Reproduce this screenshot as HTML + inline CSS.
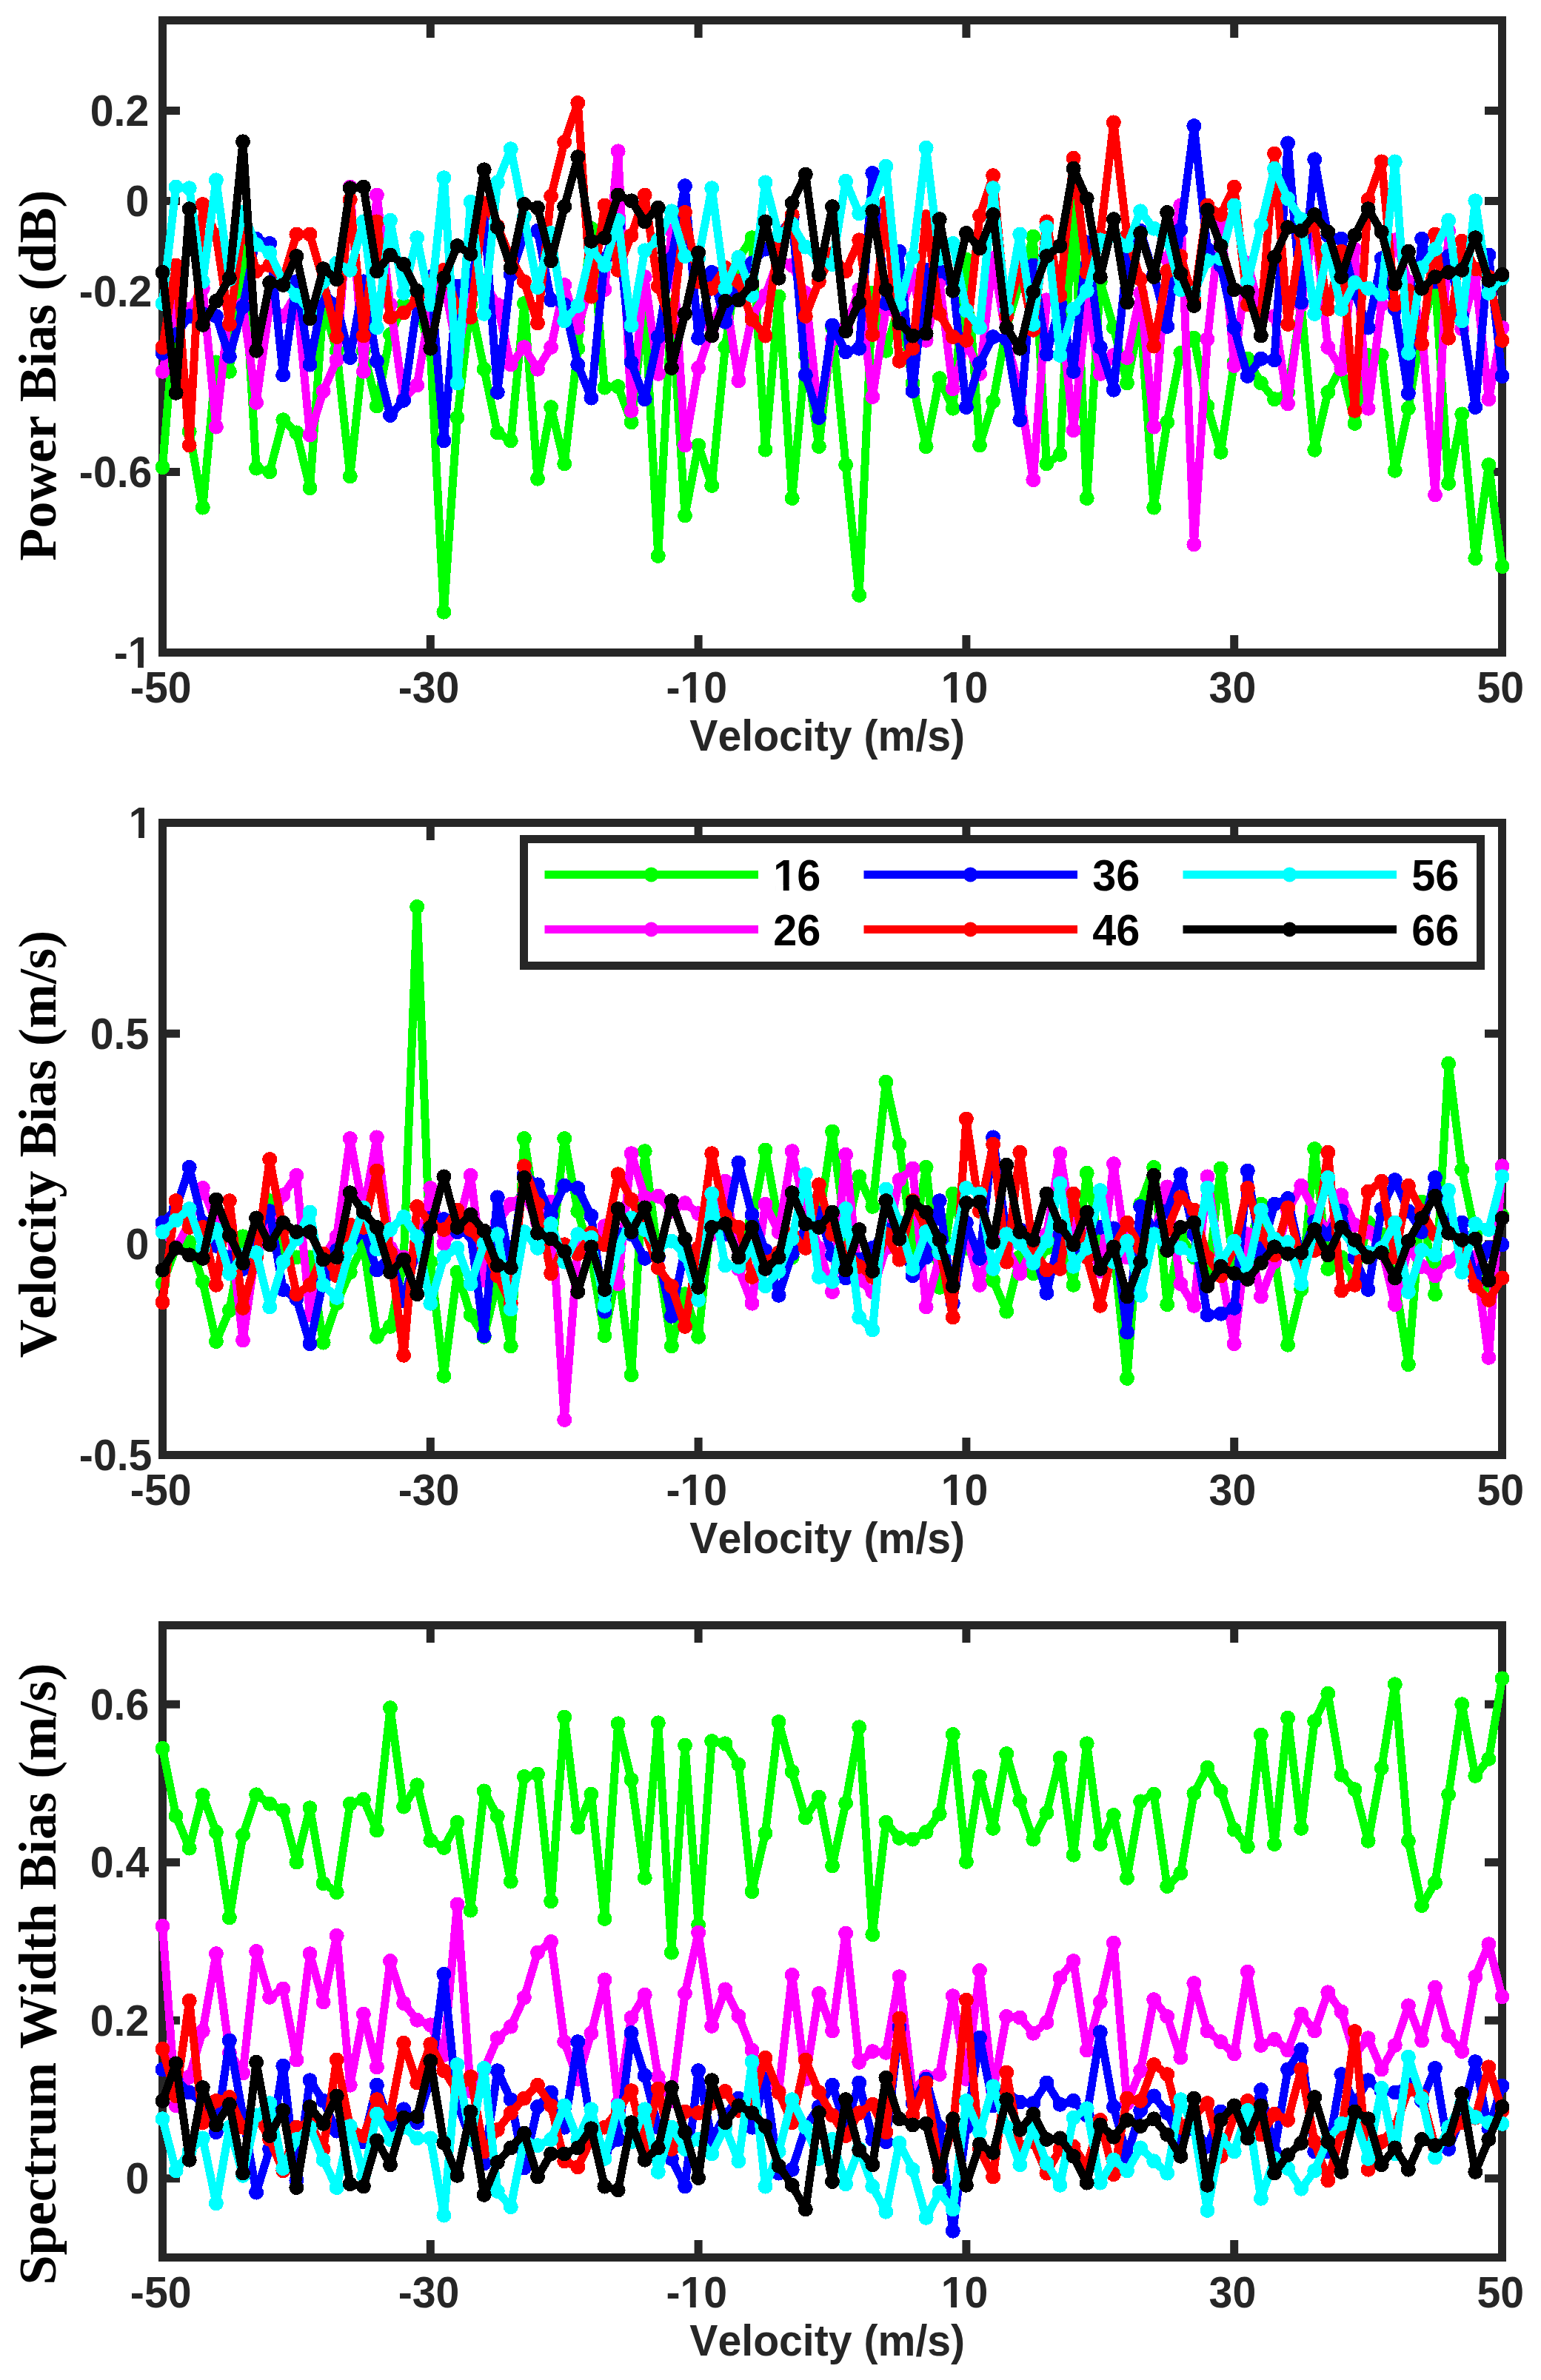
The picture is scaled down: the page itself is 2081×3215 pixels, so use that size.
<!DOCTYPE html>
<html lang="en"><head><meta charset="utf-8"><title>Bias vs Velocity</title>
<style>html,body{margin:0;padding:0;background:#fff;overflow:hidden}svg{display:block}text{font-kerning:none}.t{font-family:"Liberation Sans",Arial,sans-serif;font-weight:bold;font-size:57.2px;fill:#262626}.x{font-family:"Liberation Sans",Arial,sans-serif;font-weight:bold;font-size:57.2px;fill:#262626}.l{font-family:"Liberation Sans",Arial,sans-serif;font-weight:bold;font-size:57.6px;fill:#000}.y{font-family:"Liberation Serif","Times New Roman",serif;font-weight:bold;font-size:72.2px;fill:#000}.s{fill:none;stroke-width:11;stroke-linejoin:round;stroke-linecap:butt;shape-rendering:crispEdges}.d{fill:none;stroke-width:20;stroke-linecap:round;shape-rendering:crispEdges}.a{fill:none;stroke:#262626;stroke-width:11;stroke-linecap:butt}</style></head><body>
<svg width="2081" height="3215" viewBox="0 0 2081 3215">
<rect width="2081" height="3215" fill="#fff"/>
<g>
<path class="a" d="M581.3 27.5v23.5M581.3 881.5v-23.5M943.1 27.5v23.5M943.1 881.5v-23.5M1304.9 27.5v23.5M1304.9 881.5v-23.5M1666.7 27.5v23.5M1666.7 881.5v-23.5M219.5 149.5h23.5M2028.5 149.5h-23.5M219.5 271.5h23.5M2028.5 271.5h-23.5M219.5 393.5h23.5M2028.5 393.5h-23.5M219.5 637.5h23.5M2028.5 637.5h-23.5"/>
<rect class="a" x="219.5" y="27.5" width="1809" height="854"/>
<polyline class="s" stroke="#00ff00" points="219.5,631.1 237.6,411.5 255.7,582.8 273.8,685.6 291.9,489.4 309.9,501.8 328,330.5 346.1,632.6 364.2,637.3 382.3,567.2 400.4,584.4 418.5,659.1 436.6,411.5 454.7,473.8 472.8,643.5 490.9,473.8 508.9,548.5 527,452 545.1,411.5 563.2,411.5 581.3,473.8 599.4,826.7 617.5,564.1 635.6,411.5 653.7,498.7 671.8,584.4 689.8,595.3 707.9,409.9 726,646.7 744.1,550.1 762.2,626.4 780.3,470.7 798.4,308.7 816.5,523.6 834.6,522.1 852.6,570.3 870.7,411.5 888.8,751 906.9,411.5 925,696.5 943.1,601.5 961.2,656 979.3,469.1 997.4,349.2 1015.5,321.2 1033.5,607.7 1051.6,400.6 1069.7,673.1 1087.8,480 1105.9,603.1 1124,442.6 1142.1,628 1160.2,804 1178.3,395.9 1196.4,473.8 1214.5,411.5 1232.5,517.4 1250.6,603.1 1268.7,511.2 1286.8,551.7 1304.9,350.7 1323,601.5 1341.1,542.3 1359.2,442.6 1377.3,380.3 1395.3,319.6 1413.4,626.4 1431.5,614 1449.6,255.7 1467.7,673.1 1485.8,380.3 1503.9,442.6 1522,517.4 1540.1,427.1 1558.2,685.6 1576.2,570.3 1594.3,476.9 1612.4,456.7 1630.5,548.5 1648.6,610.8 1666.7,489.4 1684.8,484.7 1702.9,517.4 1721,539.2 1739.1,529.9 1757.2,411.5 1775.2,607.7 1793.3,529.9 1811.4,495.6 1829.5,571.9 1847.6,480 1865.7,480 1883.8,635.8 1901.9,551.7 1920,442.6 1938,380.3 1956.1,652.9 1974.2,559.4 1992.3,754.1 2010.4,628 2028.5,765"/>
<path class="d" stroke="#00ff00" d="M219.5 631.1h0M237.6 411.5h0M255.7 582.8h0M273.8 685.6h0M291.9 489.4h0M309.9 501.8h0M328 330.5h0M346.1 632.6h0M364.2 637.3h0M382.3 567.2h0M400.4 584.4h0M418.5 659.1h0M436.6 411.5h0M454.7 473.8h0M472.8 643.5h0M490.9 473.8h0M508.9 548.5h0M527 452h0M545.1 411.5h0M563.2 411.5h0M581.3 473.8h0M599.4 826.7h0M617.5 564.1h0M635.6 411.5h0M653.7 498.7h0M671.8 584.4h0M689.8 595.3h0M707.9 409.9h0M726 646.7h0M744.1 550.1h0M762.2 626.4h0M780.3 470.7h0M798.4 308.7h0M816.5 523.6h0M834.6 522.1h0M852.6 570.3h0M870.7 411.5h0M888.8 751h0M906.9 411.5h0M925 696.5h0M943.1 601.5h0M961.2 656h0M979.3 469.1h0M997.4 349.2h0M1015.5 321.2h0M1033.5 607.7h0M1051.6 400.6h0M1069.7 673.1h0M1087.8 480h0M1105.9 603.1h0M1124 442.6h0M1142.1 628h0M1160.2 804h0M1178.3 395.9h0M1196.4 473.8h0M1214.5 411.5h0M1232.5 517.4h0M1250.6 603.1h0M1268.7 511.2h0M1286.8 551.7h0M1304.9 350.7h0M1323 601.5h0M1341.1 542.3h0M1359.2 442.6h0M1377.3 380.3h0M1395.3 319.6h0M1413.4 626.4h0M1431.5 614h0M1449.6 255.7h0M1467.7 673.1h0M1485.8 380.3h0M1503.9 442.6h0M1522 517.4h0M1540.1 427.1h0M1558.2 685.6h0M1576.2 570.3h0M1594.3 476.9h0M1612.4 456.7h0M1630.5 548.5h0M1648.6 610.8h0M1666.7 489.4h0M1684.8 484.7h0M1702.9 517.4h0M1721 539.2h0M1739.1 529.9h0M1757.2 411.5h0M1775.2 607.7h0M1793.3 529.9h0M1811.4 495.6h0M1829.5 571.9h0M1847.6 480h0M1865.7 480h0M1883.8 635.8h0M1901.9 551.7h0M1920 442.6h0M1938 380.3h0M1956.1 652.9h0M1974.2 559.4h0M1992.3 754.1h0M2010.4 628h0M2028.5 765h0"/>
<polyline class="s" stroke="#ff00ff" points="219.5,501.8 237.6,411.5 255.7,417.7 273.8,389.7 291.9,576.6 309.9,411.5 328,411.5 346.1,543.9 364.2,411.5 382.3,427.1 400.4,395.9 418.5,587.5 436.6,528.3 454.7,486.2 472.8,252.6 490.9,501.8 508.9,263.5 527,411.5 545.1,539.2 563.2,520.5 581.3,411.5 599.4,380.3 617.5,473.8 635.6,395.9 653.7,380.3 671.8,411.5 689.8,492.5 707.9,469.1 726,498.7 744.1,469.1 762.2,385 780.3,442.6 798.4,380.3 816.5,391.2 834.6,204.3 852.6,554.8 870.7,374.1 888.8,504.9 906.9,311.8 925,601.5 943.1,497.1 961.2,442.6 979.3,395.9 997.4,514.3 1015.5,427.1 1033.5,399 1051.6,349.2 1069.7,358.5 1087.8,395.9 1105.9,564.1 1124,458.2 1142.1,442.6 1160.2,391.2 1178.3,536.1 1196.4,417.7 1214.5,427.1 1232.5,371 1250.6,459.8 1268.7,380.3 1286.8,525.2 1304.9,461.3 1323,504.9 1341.1,349.2 1359.2,458.2 1377.3,529.9 1395.3,648.2 1413.4,405.3 1431.5,411.5 1449.6,581.2 1467.7,408.4 1485.8,504.9 1503.9,480 1522,483.1 1540.1,395.9 1558.2,576.6 1576.2,349.2 1594.3,277.5 1612.4,735.4 1630.5,458.2 1648.6,293.1 1666.7,494 1684.8,355.4 1702.9,423.9 1721,427.1 1739.1,545.4 1757.2,411.5 1775.2,299.4 1793.3,469.1 1811.4,498.7 1829.5,336.7 1847.6,551.7 1865.7,411.5 1883.8,324.3 1901.9,380.3 1920,442.6 1938,668.5 1956.1,311.8 1974.2,444.2 1992.3,371 2010.4,539.2 2028.5,442.6"/>
<path class="d" stroke="#ff00ff" d="M219.5 501.8h0M237.6 411.5h0M255.7 417.7h0M273.8 389.7h0M291.9 576.6h0M309.9 411.5h0M328 411.5h0M346.1 543.9h0M364.2 411.5h0M382.3 427.1h0M400.4 395.9h0M418.5 587.5h0M436.6 528.3h0M454.7 486.2h0M472.8 252.6h0M490.9 501.8h0M508.9 263.5h0M527 411.5h0M545.1 539.2h0M563.2 520.5h0M581.3 411.5h0M599.4 380.3h0M617.5 473.8h0M635.6 395.9h0M653.7 380.3h0M671.8 411.5h0M689.8 492.5h0M707.9 469.1h0M726 498.7h0M744.1 469.1h0M762.2 385h0M780.3 442.6h0M798.4 380.3h0M816.5 391.2h0M834.6 204.3h0M852.6 554.8h0M870.7 374.1h0M888.8 504.9h0M906.9 311.8h0M925 601.5h0M943.1 497.1h0M961.2 442.6h0M979.3 395.9h0M997.4 514.3h0M1015.5 427.1h0M1033.5 399h0M1051.6 349.2h0M1069.7 358.5h0M1087.8 395.9h0M1105.9 564.1h0M1124 458.2h0M1142.1 442.6h0M1160.2 391.2h0M1178.3 536.1h0M1196.4 417.7h0M1214.5 427.1h0M1232.5 371h0M1250.6 459.8h0M1268.7 380.3h0M1286.8 525.2h0M1304.9 461.3h0M1323 504.9h0M1341.1 349.2h0M1359.2 458.2h0M1377.3 529.9h0M1395.3 648.2h0M1413.4 405.3h0M1431.5 411.5h0M1449.6 581.2h0M1467.7 408.4h0M1485.8 504.9h0M1503.9 480h0M1522 483.1h0M1540.1 395.9h0M1558.2 576.6h0M1576.2 349.2h0M1594.3 277.5h0M1612.4 735.4h0M1630.5 458.2h0M1648.6 293.1h0M1666.7 494h0M1684.8 355.4h0M1702.9 423.9h0M1721 427.1h0M1739.1 545.4h0M1757.2 411.5h0M1775.2 299.4h0M1793.3 469.1h0M1811.4 498.7h0M1829.5 336.7h0M1847.6 551.7h0M1865.7 411.5h0M1883.8 324.3h0M1901.9 380.3h0M1920 442.6h0M1938 668.5h0M1956.1 311.8h0M1974.2 444.2h0M1992.3 371h0M2010.4 539.2h0M2028.5 442.6h0"/>
<polyline class="s" stroke="#0000ff" points="219.5,476.9 237.6,452 255.7,427.1 273.8,423.9 291.9,427.1 309.9,481.6 328,414.6 346.1,322.7 364.2,328.9 382.3,506.5 400.4,380.3 418.5,492.5 436.6,395.9 454.7,411.5 472.8,483.1 490.9,380.3 508.9,487.8 527,561 545.1,540.8 563.2,411.5 581.3,374.1 599.4,595.3 617.5,386.6 635.6,386.6 653.7,286.9 671.8,529.9 689.8,371 707.9,318 726,311.8 744.1,405.3 762.2,411.5 780.3,492.5 798.4,537.6 816.5,349.2 834.6,305.6 852.6,489.4 870.7,539.2 888.8,455.1 906.9,349.2 925,251.1 943.1,456.7 961.2,367.9 979.3,434.8 997.4,380.3 1015.5,355.4 1033.5,336.7 1051.6,318 1069.7,293.1 1087.8,506.5 1105.9,564.1 1124,439.5 1142.1,475.3 1160.2,470.7 1178.3,233.9 1196.4,409.9 1214.5,339.8 1232.5,528.3 1250.6,364.8 1268.7,366.3 1286.8,380.3 1304.9,550.1 1323,490.9 1341.1,455.1 1359.2,458.2 1377.3,567.2 1395.3,358.5 1413.4,478.5 1431.5,411.5 1449.6,501.8 1467.7,327.4 1485.8,469.1 1503.9,526.7 1522,349.2 1540.1,311.8 1558.2,371 1576.2,441.1 1594.3,310.3 1612.4,170.1 1630.5,336.7 1648.6,358.5 1666.7,442.6 1684.8,508 1702.9,484.7 1721,486.2 1739.1,193.4 1757.2,408.4 1775.2,215.3 1793.3,318 1811.4,322.7 1829.5,395.9 1847.6,442.6 1865.7,349.2 1883.8,417.7 1901.9,531.4 1920,322.7 1938,380.3 1956.1,346.1 1974.2,427.1 1992.3,550.1 2010.4,344.5 2028.5,508"/>
<path class="d" stroke="#0000ff" d="M219.5 476.9h0M237.6 452h0M255.7 427.1h0M273.8 423.9h0M291.9 427.1h0M309.9 481.6h0M328 414.6h0M346.1 322.7h0M364.2 328.9h0M382.3 506.5h0M400.4 380.3h0M418.5 492.5h0M436.6 395.9h0M454.7 411.5h0M472.8 483.1h0M490.9 380.3h0M508.9 487.8h0M527 561h0M545.1 540.8h0M563.2 411.5h0M581.3 374.1h0M599.4 595.3h0M617.5 386.6h0M635.6 386.6h0M653.7 286.9h0M671.8 529.9h0M689.8 371h0M707.9 318h0M726 311.8h0M744.1 405.3h0M762.2 411.5h0M780.3 492.5h0M798.4 537.6h0M816.5 349.2h0M834.6 305.6h0M852.6 489.4h0M870.7 539.2h0M888.8 455.1h0M906.9 349.2h0M925 251.1h0M943.1 456.7h0M961.2 367.9h0M979.3 434.8h0M997.4 380.3h0M1015.5 355.4h0M1033.5 336.7h0M1051.6 318h0M1069.7 293.1h0M1087.8 506.5h0M1105.9 564.1h0M1124 439.5h0M1142.1 475.3h0M1160.2 470.7h0M1178.3 233.9h0M1196.4 409.9h0M1214.5 339.8h0M1232.5 528.3h0M1250.6 364.8h0M1268.7 366.3h0M1286.8 380.3h0M1304.9 550.1h0M1323 490.9h0M1341.1 455.1h0M1359.2 458.2h0M1377.3 567.2h0M1395.3 358.5h0M1413.4 478.5h0M1431.5 411.5h0M1449.6 501.8h0M1467.7 327.4h0M1485.8 469.1h0M1503.9 526.7h0M1522 349.2h0M1540.1 311.8h0M1558.2 371h0M1576.2 441.1h0M1594.3 310.3h0M1612.4 170.1h0M1630.5 336.7h0M1648.6 358.5h0M1666.7 442.6h0M1684.8 508h0M1702.9 484.7h0M1721 486.2h0M1739.1 193.4h0M1757.2 408.4h0M1775.2 215.3h0M1793.3 318h0M1811.4 322.7h0M1829.5 395.9h0M1847.6 442.6h0M1865.7 349.2h0M1883.8 417.7h0M1901.9 531.4h0M1920 322.7h0M1938 380.3h0M1956.1 346.1h0M1974.2 427.1h0M1992.3 550.1h0M2010.4 344.5h0M2028.5 508h0"/>
<polyline class="s" stroke="#ff0000" points="219.5,469.1 237.6,358.5 255.7,601.5 273.8,276 291.9,318 309.9,438 328,299.4 346.1,366.3 364.2,358.5 382.3,377.2 400.4,316.5 418.5,316.5 436.6,380.3 454.7,455.1 472.8,269.8 490.9,453.5 508.9,299.4 527,428.6 545.1,422.4 563.2,405.3 581.3,380.3 599.4,364.8 617.5,414.6 635.6,428.6 653.7,274.4 671.8,305.6 689.8,349.2 707.9,380.3 726,436.4 744.1,265.1 762.2,191.9 780.3,138.9 798.4,400.6 816.5,277.5 834.6,364.8 852.6,318 870.7,263.5 888.8,386.6 906.9,442.6 925,286.9 943.1,380.3 961.2,389.7 979.3,361.6 997.4,380.3 1015.5,431.7 1033.5,453.5 1051.6,324.3 1069.7,290 1087.8,427.1 1105.9,380.3 1124,343 1142.1,366.3 1160.2,324.3 1178.3,452 1196.4,274.4 1214.5,487.8 1232.5,470.7 1250.6,293.1 1268.7,423.9 1286.8,455.1 1304.9,459.8 1323,291.6 1341.1,237.1 1359.2,427.1 1377.3,358.5 1395.3,445.8 1413.4,299.4 1431.5,399 1449.6,213.7 1467.7,367.9 1485.8,318 1503.9,165.4 1522,318 1540.1,377.2 1558.2,467.6 1576.2,366.3 1594.3,346.1 1612.4,405.3 1630.5,277.5 1648.6,290 1666.7,252.6 1684.8,411.5 1702.9,427.1 1721,207.5 1739.1,438 1757.2,318 1775.2,302.5 1793.3,417.7 1811.4,339.8 1829.5,554.8 1847.6,269.8 1865.7,218.4 1883.8,411.5 1901.9,392.8 1920,464.4 1938,316.5 1956.1,456.7 1974.2,325.8 1992.3,363.2 2010.4,374.1 2028.5,459.8"/>
<path class="d" stroke="#ff0000" d="M219.5 469.1h0M237.6 358.5h0M255.7 601.5h0M273.8 276h0M291.9 318h0M309.9 438h0M328 299.4h0M346.1 366.3h0M364.2 358.5h0M382.3 377.2h0M400.4 316.5h0M418.5 316.5h0M436.6 380.3h0M454.7 455.1h0M472.8 269.8h0M490.9 453.5h0M508.9 299.4h0M527 428.6h0M545.1 422.4h0M563.2 405.3h0M581.3 380.3h0M599.4 364.8h0M617.5 414.6h0M635.6 428.6h0M653.7 274.4h0M671.8 305.6h0M689.8 349.2h0M707.9 380.3h0M726 436.4h0M744.1 265.1h0M762.2 191.9h0M780.3 138.9h0M798.4 400.6h0M816.5 277.5h0M834.6 364.8h0M852.6 318h0M870.7 263.5h0M888.8 386.6h0M906.9 442.6h0M925 286.9h0M943.1 380.3h0M961.2 389.7h0M979.3 361.6h0M997.4 380.3h0M1015.5 431.7h0M1033.5 453.5h0M1051.6 324.3h0M1069.7 290h0M1087.8 427.1h0M1105.9 380.3h0M1124 343h0M1142.1 366.3h0M1160.2 324.3h0M1178.3 452h0M1196.4 274.4h0M1214.5 487.8h0M1232.5 470.7h0M1250.6 293.1h0M1268.7 423.9h0M1286.8 455.1h0M1304.9 459.8h0M1323 291.6h0M1341.1 237.1h0M1359.2 427.1h0M1377.3 358.5h0M1395.3 445.8h0M1413.4 299.4h0M1431.5 399h0M1449.6 213.7h0M1467.7 367.9h0M1485.8 318h0M1503.9 165.4h0M1522 318h0M1540.1 377.2h0M1558.2 467.6h0M1576.2 366.3h0M1594.3 346.1h0M1612.4 405.3h0M1630.5 277.5h0M1648.6 290h0M1666.7 252.6h0M1684.8 411.5h0M1702.9 427.1h0M1721 207.5h0M1739.1 438h0M1757.2 318h0M1775.2 302.5h0M1793.3 417.7h0M1811.4 339.8h0M1829.5 554.8h0M1847.6 269.8h0M1865.7 218.4h0M1883.8 411.5h0M1901.9 392.8h0M1920 464.4h0M1938 316.5h0M1956.1 456.7h0M1974.2 325.8h0M1992.3 363.2h0M2010.4 374.1h0M2028.5 459.8h0"/>
<polyline class="s" stroke="#00ffff" points="219.5,409.9 237.6,252.6 255.7,254.2 273.8,380.3 291.9,243.3 309.9,377.2 328,286.9 346.1,330.5 364.2,341.4 382.3,380.3 400.4,399 418.5,420.8 436.6,380.3 454.7,355.4 472.8,364.8 490.9,299.4 508.9,442.6 527,297.8 545.1,395.9 563.2,321.2 581.3,411.5 599.4,240.2 617.5,517.4 635.6,272.9 653.7,423.9 671.8,246.4 689.8,201.2 707.9,293.1 726,388.1 744.1,314.9 762.2,433.3 780.3,413 798.4,336.7 816.5,358.5 834.6,297.8 852.6,439.5 870.7,338.3 888.8,324.3 906.9,285.3 925,346.1 943.1,349.2 961.2,254.2 979.3,389.7 997.4,347.6 1015.5,399 1033.5,246.4 1051.6,318 1069.7,302.5 1087.8,333.6 1105.9,349.2 1124,357 1142.1,244.8 1160.2,288.5 1178.3,274.4 1196.4,224.6 1214.5,411.5 1232.5,347.6 1250.6,199.7 1268.7,349.2 1286.8,328.9 1304.9,419.3 1323,442.6 1341.1,254.2 1359.2,417.7 1377.3,316.5 1395.3,438 1413.4,307.1 1431.5,480 1449.6,417.7 1467.7,392.8 1485.8,324.3 1503.9,318 1522,332.1 1540.1,285.3 1558.2,308.7 1576.2,324.3 1594.3,391.2 1612.4,395.9 1630.5,352.3 1648.6,349.2 1666.7,277.5 1684.8,380.3 1702.9,304 1721,227.7 1739.1,268.2 1757.2,296.2 1775.2,423.9 1793.3,336.7 1811.4,417.7 1829.5,381.9 1847.6,389.7 1865.7,397.5 1883.8,218.4 1901.9,476.9 1920,361.6 1938,336.7 1956.1,297.8 1974.2,433.3 1992.3,271.3 2010.4,395.9 2028.5,375.7"/>
<path class="d" stroke="#00ffff" d="M219.5 409.9h0M237.6 252.6h0M255.7 254.2h0M273.8 380.3h0M291.9 243.3h0M309.9 377.2h0M328 286.9h0M346.1 330.5h0M364.2 341.4h0M382.3 380.3h0M400.4 399h0M418.5 420.8h0M436.6 380.3h0M454.7 355.4h0M472.8 364.8h0M490.9 299.4h0M508.9 442.6h0M527 297.8h0M545.1 395.9h0M563.2 321.2h0M581.3 411.5h0M599.4 240.2h0M617.5 517.4h0M635.6 272.9h0M653.7 423.9h0M671.8 246.4h0M689.8 201.2h0M707.9 293.1h0M726 388.1h0M744.1 314.9h0M762.2 433.3h0M780.3 413h0M798.4 336.7h0M816.5 358.5h0M834.6 297.8h0M852.6 439.5h0M870.7 338.3h0M888.8 324.3h0M906.9 285.3h0M925 346.1h0M943.1 349.2h0M961.2 254.2h0M979.3 389.7h0M997.4 347.6h0M1015.5 399h0M1033.5 246.4h0M1051.6 318h0M1069.7 302.5h0M1087.8 333.6h0M1105.9 349.2h0M1124 357h0M1142.1 244.8h0M1160.2 288.5h0M1178.3 274.4h0M1196.4 224.6h0M1214.5 411.5h0M1232.5 347.6h0M1250.6 199.7h0M1268.7 349.2h0M1286.8 328.9h0M1304.9 419.3h0M1323 442.6h0M1341.1 254.2h0M1359.2 417.7h0M1377.3 316.5h0M1395.3 438h0M1413.4 307.1h0M1431.5 480h0M1449.6 417.7h0M1467.7 392.8h0M1485.8 324.3h0M1503.9 318h0M1522 332.1h0M1540.1 285.3h0M1558.2 308.7h0M1576.2 324.3h0M1594.3 391.2h0M1612.4 395.9h0M1630.5 352.3h0M1648.6 349.2h0M1666.7 277.5h0M1684.8 380.3h0M1702.9 304h0M1721 227.7h0M1739.1 268.2h0M1757.2 296.2h0M1775.2 423.9h0M1793.3 336.7h0M1811.4 417.7h0M1829.5 381.9h0M1847.6 389.7h0M1865.7 397.5h0M1883.8 218.4h0M1901.9 476.9h0M1920 361.6h0M1938 336.7h0M1956.1 297.8h0M1974.2 433.3h0M1992.3 271.3h0M2010.4 395.9h0M2028.5 375.7h0"/>
<polyline class="s" stroke="#000000" points="219.5,367.9 237.6,530.8 255.7,282.2 273.8,438.9 291.9,406.8 309.9,375.7 328,191.3 346.1,473.8 364.2,381.9 382.3,385 400.4,346.1 418.5,430.2 436.6,363.2 454.7,377.2 472.8,254.2 490.9,252.6 508.9,366.3 527,344.5 545.1,357 563.2,392.8 581.3,470.7 599.4,375.7 617.5,332.1 635.6,343 653.7,229.3 671.8,307.1 689.8,361.6 707.9,276 726,280.7 744.1,352.3 762.2,279.1 780.3,212.1 798.4,325.8 816.5,321.2 834.6,263.5 852.6,271.3 870.7,299.4 888.8,280.7 906.9,497.1 925,423.9 943.1,341.4 961.2,453.5 979.3,406.8 997.4,405.3 1015.5,383.5 1033.5,299.4 1051.6,375.7 1069.7,274.4 1087.8,235.5 1105.9,371 1124,279.1 1142.1,447.3 1160.2,408.4 1178.3,285.3 1196.4,391.2 1214.5,436.4 1232.5,453.5 1250.6,450.4 1268.7,296.2 1286.8,392.8 1304.9,314.9 1323,335.2 1341.1,290 1359.2,442.6 1377.3,470.7 1395.3,394.4 1413.4,346.1 1431.5,332.1 1449.6,227.7 1467.7,268.2 1485.8,374.1 1503.9,296.2 1522,408.4 1540.1,314.9 1558.2,374.1 1576.2,286.9 1594.3,369.4 1612.4,413 1630.5,283.8 1648.6,332.1 1666.7,391.2 1684.8,394.4 1702.9,453.5 1721,347.6 1739.1,307.1 1757.2,311.8 1775.2,290 1793.3,313.4 1811.4,374.1 1829.5,318 1847.6,282.2 1865.7,313.4 1883.8,383.5 1901.9,339.8 1920,389.7 1938,374.1 1956.1,367.9 1974.2,364.8 1992.3,321.2 2010.4,378.8 2028.5,371"/>
<path class="d" stroke="#000000" d="M219.5 367.9h0M237.6 530.8h0M255.7 282.2h0M273.8 438.9h0M291.9 406.8h0M309.9 375.7h0M328 191.3h0M346.1 473.8h0M364.2 381.9h0M382.3 385h0M400.4 346.1h0M418.5 430.2h0M436.6 363.2h0M454.7 377.2h0M472.8 254.2h0M490.9 252.6h0M508.9 366.3h0M527 344.5h0M545.1 357h0M563.2 392.8h0M581.3 470.7h0M599.4 375.7h0M617.5 332.1h0M635.6 343h0M653.7 229.3h0M671.8 307.1h0M689.8 361.6h0M707.9 276h0M726 280.7h0M744.1 352.3h0M762.2 279.1h0M780.3 212.1h0M798.4 325.8h0M816.5 321.2h0M834.6 263.5h0M852.6 271.3h0M870.7 299.4h0M888.8 280.7h0M906.9 497.1h0M925 423.9h0M943.1 341.4h0M961.2 453.5h0M979.3 406.8h0M997.4 405.3h0M1015.5 383.5h0M1033.5 299.4h0M1051.6 375.7h0M1069.7 274.4h0M1087.8 235.5h0M1105.9 371h0M1124 279.1h0M1142.1 447.3h0M1160.2 408.4h0M1178.3 285.3h0M1196.4 391.2h0M1214.5 436.4h0M1232.5 453.5h0M1250.6 450.4h0M1268.7 296.2h0M1286.8 392.8h0M1304.9 314.9h0M1323 335.2h0M1341.1 290h0M1359.2 442.6h0M1377.3 470.7h0M1395.3 394.4h0M1413.4 346.1h0M1431.5 332.1h0M1449.6 227.7h0M1467.7 268.2h0M1485.8 374.1h0M1503.9 296.2h0M1522 408.4h0M1540.1 314.9h0M1558.2 374.1h0M1576.2 286.9h0M1594.3 369.4h0M1612.4 413h0M1630.5 283.8h0M1648.6 332.1h0M1666.7 391.2h0M1684.8 394.4h0M1702.9 453.5h0M1721 347.6h0M1739.1 307.1h0M1757.2 311.8h0M1775.2 290h0M1793.3 313.4h0M1811.4 374.1h0M1829.5 318h0M1847.6 282.2h0M1865.7 313.4h0M1883.8 383.5h0M1901.9 339.8h0M1920 389.7h0M1938 374.1h0M1956.1 367.9h0M1974.2 364.8h0M1992.3 321.2h0M2010.4 378.8h0M2028.5 371h0"/>
<text class="t" text-anchor="end" transform="translate(201.3 170) scale(1 1.032)">0.2</text>
<text class="t" text-anchor="end" transform="translate(201.3 292) scale(1 1.032)">0</text>
<text class="t" text-anchor="end" transform="translate(205.4 414) scale(1 1.032)">-0.2</text>
<text class="t" text-anchor="end" transform="translate(205.4 658) scale(1 1.032)">-0.6</text>
<text class="t" text-anchor="end" transform="translate(204.5 902) scale(1 1.032)">-1</text>
<rect x="175.49" y="895.30" width="10.56" height="7.70" fill="#fff"/>
<rect x="193.90" y="895.30" width="9.80" height="7.70" fill="#fff"/>
<text class="t" text-anchor="middle" transform="translate(217.2 949.2) scale(1 1.032)">-50</text>
<text class="t" text-anchor="middle" transform="translate(579 949.2) scale(1 1.032)">-30</text>
<text class="t" text-anchor="middle" transform="translate(940.8 949.2) scale(1 1.032)">-10</text>
<rect x="921.31" y="942.50" width="10.56" height="7.70" fill="#fff"/>
<rect x="939.72" y="942.50" width="9.80" height="7.70" fill="#fff"/>
<text class="t" text-anchor="middle" transform="translate(1302.6 949.2) scale(1 1.032)">10</text>
<rect x="1273.59" y="942.50" width="10.56" height="7.70" fill="#fff"/>
<rect x="1292.00" y="942.50" width="9.80" height="7.70" fill="#fff"/>
<text class="t" text-anchor="middle" transform="translate(1664.4 949.2) scale(1 1.032)">30</text>
<text class="t" text-anchor="middle" transform="translate(2026.2 949.2) scale(1 1.032)">50</text>
<text class="x" text-anchor="middle" transform="translate(1117.2 1013.6) scale(1 1.032)">Velocity (m/s)</text>
<text class="y" text-anchor="middle" transform="translate(75 507) rotate(-90)">Power Bias (dB)</text>
</g>
<g>
<path class="a" d="M581.3 1111.5v23.5M581.3 1965.5v-23.5M943.1 1111.5v23.5M943.1 1965.5v-23.5M1304.9 1111.5v23.5M1304.9 1965.5v-23.5M1666.7 1111.5v23.5M1666.7 1965.5v-23.5M219.5 1396.2h23.5M2028.5 1396.2h-23.5M219.5 1680.8h23.5M2028.5 1680.8h-23.5"/>
<rect class="a" x="219.5" y="1111.5" width="1809" height="854"/>
<polyline class="s" stroke="#00ff00" points="219.5,1734.2 237.6,1685.9 255.7,1678.1 273.8,1731.1 291.9,1812.1 309.9,1770 328,1670.3 346.1,1698.4 364.2,1622.1 382.3,1685.9 400.4,1698.4 418.5,1698.4 436.6,1813.6 454.7,1760.7 472.8,1718.6 490.9,1681.2 508.9,1805.8 527,1791.8 545.1,1704.6 563.2,1224.9 581.3,1704.6 599.4,1858.8 617.5,1718.6 635.6,1776.3 653.7,1805.8 671.8,1729.5 689.8,1818.3 707.9,1538 726,1651.7 744.1,1698.4 762.2,1538 780.3,1636.1 798.4,1698.4 816.5,1804.3 834.6,1710.8 852.6,1857.2 870.7,1555.1 888.8,1698.4 906.9,1818.3 925,1748.2 943.1,1805.8 961.2,1636.1 979.3,1651.7 997.4,1685.9 1015.5,1651.7 1033.5,1553.5 1051.6,1651.7 1069.7,1698.4 1087.8,1667.2 1105.9,1651.7 1124,1528.6 1142.1,1667.2 1160.2,1589.4 1178.3,1629.9 1196.4,1461.6 1214.5,1545.8 1232.5,1685.9 1250.6,1576.9 1268.7,1738.9 1286.8,1612.7 1304.9,1685.9 1323,1698.4 1341.1,1729.5 1359.2,1771.6 1377.3,1698.4 1395.3,1720.2 1413.4,1685.9 1431.5,1667.2 1449.6,1735.8 1467.7,1584.7 1485.8,1685.9 1503.9,1685.9 1522,1861.9 1540.1,1626.7 1558.2,1576.9 1576.2,1762.2 1594.3,1667.2 1612.4,1698.4 1630.5,1729.5 1648.6,1578.5 1666.7,1714 1684.8,1685.9 1702.9,1626.7 1721,1698.4 1739.1,1816.7 1757.2,1742 1775.2,1552 1793.3,1714 1811.4,1698.4 1829.5,1729.5 1847.6,1651.7 1865.7,1667.2 1883.8,1729.5 1901.9,1843.2 1920,1623.6 1938,1748.2 1956.1,1436.7 1974.2,1580 1992.3,1667.2 2010.4,1735.8 2028.5,1642.3"/>
<path class="d" stroke="#00ff00" d="M219.5 1734.2h0M237.6 1685.9h0M255.7 1678.1h0M273.8 1731.1h0M291.9 1812.1h0M309.9 1770h0M328 1670.3h0M346.1 1698.4h0M364.2 1622.1h0M382.3 1685.9h0M400.4 1698.4h0M418.5 1698.4h0M436.6 1813.6h0M454.7 1760.7h0M472.8 1718.6h0M490.9 1681.2h0M508.9 1805.8h0M527 1791.8h0M545.1 1704.6h0M563.2 1224.9h0M581.3 1704.6h0M599.4 1858.8h0M617.5 1718.6h0M635.6 1776.3h0M653.7 1805.8h0M671.8 1729.5h0M689.8 1818.3h0M707.9 1538h0M726 1651.7h0M744.1 1698.4h0M762.2 1538h0M780.3 1636.1h0M798.4 1698.4h0M816.5 1804.3h0M834.6 1710.8h0M852.6 1857.2h0M870.7 1555.1h0M888.8 1698.4h0M906.9 1818.3h0M925 1748.2h0M943.1 1805.8h0M961.2 1636.1h0M979.3 1651.7h0M997.4 1685.9h0M1015.5 1651.7h0M1033.5 1553.5h0M1051.6 1651.7h0M1069.7 1698.4h0M1087.8 1667.2h0M1105.9 1651.7h0M1124 1528.6h0M1142.1 1667.2h0M1160.2 1589.4h0M1178.3 1629.9h0M1196.4 1461.6h0M1214.5 1545.8h0M1232.5 1685.9h0M1250.6 1576.9h0M1268.7 1738.9h0M1286.8 1612.7h0M1304.9 1685.9h0M1323 1698.4h0M1341.1 1729.5h0M1359.2 1771.6h0M1377.3 1698.4h0M1395.3 1720.2h0M1413.4 1685.9h0M1431.5 1667.2h0M1449.6 1735.8h0M1467.7 1584.7h0M1485.8 1685.9h0M1503.9 1685.9h0M1522 1861.9h0M1540.1 1626.7h0M1558.2 1576.9h0M1576.2 1762.2h0M1594.3 1667.2h0M1612.4 1698.4h0M1630.5 1729.5h0M1648.6 1578.5h0M1666.7 1714h0M1684.8 1685.9h0M1702.9 1626.7h0M1721 1698.4h0M1739.1 1816.7h0M1757.2 1742h0M1775.2 1552h0M1793.3 1714h0M1811.4 1698.4h0M1829.5 1729.5h0M1847.6 1651.7h0M1865.7 1667.2h0M1883.8 1729.5h0M1901.9 1843.2h0M1920 1623.6h0M1938 1748.2h0M1956.1 1436.7h0M1974.2 1580h0M1992.3 1667.2h0M2010.4 1735.8h0M2028.5 1642.3h0"/>
<polyline class="s" stroke="#ff00ff" points="219.5,1661 237.6,1685.9 255.7,1651.7 273.8,1604.9 291.9,1651.7 309.9,1654.8 328,1810.5 346.1,1685.9 364.2,1661 382.3,1614.3 400.4,1587.8 418.5,1776.3 436.6,1698.4 454.7,1670.3 472.8,1538 490.9,1636.1 508.9,1536.4 527,1685.9 545.1,1698.4 563.2,1698.4 581.3,1604.9 599.4,1679.7 617.5,1661 635.6,1587.8 653.7,1729.5 671.8,1651.7 689.8,1626.7 707.9,1614.3 726,1651.7 744.1,1623.6 762.2,1918 780.3,1685.9 798.4,1685.9 816.5,1656.3 834.6,1734.2 852.6,1558.2 870.7,1617.4 888.8,1615.8 906.9,1636.1 925,1625.2 943.1,1639.2 961.2,1667.2 979.3,1595.6 997.4,1714 1015.5,1760.7 1033.5,1626.7 1051.6,1664.1 1069.7,1555.1 1087.8,1636.1 1105.9,1685.9 1124,1745.1 1142.1,1559.8 1160.2,1729.5 1178.3,1745.1 1196.4,1685.9 1214.5,1594 1232.5,1578.5 1250.6,1765.4 1268.7,1698.4 1286.8,1685.9 1304.9,1667.2 1323,1735.8 1341.1,1667.2 1359.2,1685.9 1377.3,1720.2 1395.3,1685.9 1413.4,1667.2 1431.5,1558.2 1449.6,1667.2 1467.7,1667.2 1485.8,1717.1 1503.9,1572.2 1522,1698.4 1540.1,1685.9 1558.2,1667.2 1576.2,1603.4 1594.3,1734.2 1612.4,1763.8 1630.5,1589.4 1648.6,1714 1666.7,1815.2 1684.8,1667.2 1702.9,1751.3 1721,1704.6 1739.1,1636.1 1757.2,1601.8 1775.2,1636.1 1793.3,1664.1 1811.4,1614.3 1829.5,1654.8 1847.6,1664.1 1865.7,1685.9 1883.8,1762.2 1901.9,1685.9 1920,1710.8 1938,1723.3 1956.1,1704.6 1974.2,1685.9 1992.3,1698.4 2010.4,1833.9 2028.5,1575.3"/>
<path class="d" stroke="#ff00ff" d="M219.5 1661h0M237.6 1685.9h0M255.7 1651.7h0M273.8 1604.9h0M291.9 1651.7h0M309.9 1654.8h0M328 1810.5h0M346.1 1685.9h0M364.2 1661h0M382.3 1614.3h0M400.4 1587.8h0M418.5 1776.3h0M436.6 1698.4h0M454.7 1670.3h0M472.8 1538h0M490.9 1636.1h0M508.9 1536.4h0M527 1685.9h0M545.1 1698.4h0M563.2 1698.4h0M581.3 1604.9h0M599.4 1679.7h0M617.5 1661h0M635.6 1587.8h0M653.7 1729.5h0M671.8 1651.7h0M689.8 1626.7h0M707.9 1614.3h0M726 1651.7h0M744.1 1623.6h0M762.2 1918h0M780.3 1685.9h0M798.4 1685.9h0M816.5 1656.3h0M834.6 1734.2h0M852.6 1558.2h0M870.7 1617.4h0M888.8 1615.8h0M906.9 1636.1h0M925 1625.2h0M943.1 1639.2h0M961.2 1667.2h0M979.3 1595.6h0M997.4 1714h0M1015.5 1760.7h0M1033.5 1626.7h0M1051.6 1664.1h0M1069.7 1555.1h0M1087.8 1636.1h0M1105.9 1685.9h0M1124 1745.1h0M1142.1 1559.8h0M1160.2 1729.5h0M1178.3 1745.1h0M1196.4 1685.9h0M1214.5 1594h0M1232.5 1578.5h0M1250.6 1765.4h0M1268.7 1698.4h0M1286.8 1685.9h0M1304.9 1667.2h0M1323 1735.8h0M1341.1 1667.2h0M1359.2 1685.9h0M1377.3 1720.2h0M1395.3 1685.9h0M1413.4 1667.2h0M1431.5 1558.2h0M1449.6 1667.2h0M1467.7 1667.2h0M1485.8 1717.1h0M1503.9 1572.2h0M1522 1698.4h0M1540.1 1685.9h0M1558.2 1667.2h0M1576.2 1603.4h0M1594.3 1734.2h0M1612.4 1763.8h0M1630.5 1589.4h0M1648.6 1714h0M1666.7 1815.2h0M1684.8 1667.2h0M1702.9 1751.3h0M1721 1704.6h0M1739.1 1636.1h0M1757.2 1601.8h0M1775.2 1636.1h0M1793.3 1664.1h0M1811.4 1614.3h0M1829.5 1654.8h0M1847.6 1664.1h0M1865.7 1685.9h0M1883.8 1762.2h0M1901.9 1685.9h0M1920 1710.8h0M1938 1723.3h0M1956.1 1704.6h0M1974.2 1685.9h0M1992.3 1698.4h0M2010.4 1833.9h0M2028.5 1575.3h0"/>
<polyline class="s" stroke="#0000ff" points="219.5,1651.7 237.6,1633 255.7,1576.9 273.8,1651.7 291.9,1682.8 309.9,1698.4 328,1714 346.1,1667.2 364.2,1636.1 382.3,1742 400.4,1754.4 418.5,1815.2 436.6,1729.5 454.7,1689 472.8,1685.9 490.9,1661 508.9,1715.5 527,1695.3 545.1,1757.6 563.2,1685.9 581.3,1645.4 599.4,1647 617.5,1664.1 635.6,1667.2 653.7,1804.3 671.8,1617.4 689.8,1710.8 707.9,1586.2 726,1600.3 744.1,1640.8 762.2,1601.8 780.3,1604.9 798.4,1642.3 816.5,1771.6 834.6,1667.2 852.6,1667.2 870.7,1699.9 888.8,1698.4 906.9,1777.8 925,1685.9 943.1,1698.4 961.2,1651.7 979.3,1667.2 997.4,1570.7 1015.5,1640.8 1033.5,1689 1051.6,1749.8 1069.7,1693.7 1087.8,1667.2 1105.9,1639.2 1124,1695.3 1142.1,1726.4 1160.2,1701.5 1178.3,1685.9 1196.4,1661 1214.5,1667.2 1232.5,1723.3 1250.6,1698.4 1268.7,1622.1 1286.8,1760.7 1304.9,1651.7 1323,1699.9 1341.1,1536.4 1359.2,1667.2 1377.3,1661 1395.3,1685.9 1413.4,1746.7 1431.5,1667.2 1449.6,1685.9 1467.7,1673.5 1485.8,1657.9 1503.9,1659.4 1522,1799.6 1540.1,1629.9 1558.2,1661 1576.2,1636.1 1594.3,1586.2 1612.4,1667.2 1630.5,1776.3 1648.6,1774.7 1666.7,1766.9 1684.8,1581.6 1702.9,1695.3 1721,1626.7 1739.1,1619 1757.2,1698.4 1775.2,1650.1 1793.3,1667.2 1811.4,1636.1 1829.5,1698.4 1847.6,1742 1865.7,1633 1883.8,1594 1901.9,1636.1 1920,1664.1 1938,1590.9 1956.1,1661 1974.2,1651.7 1992.3,1729.5 2010.4,1685.9 2028.5,1681.2"/>
<path class="d" stroke="#0000ff" d="M219.5 1651.7h0M237.6 1633h0M255.7 1576.9h0M273.8 1651.7h0M291.9 1682.8h0M309.9 1698.4h0M328 1714h0M346.1 1667.2h0M364.2 1636.1h0M382.3 1742h0M400.4 1754.4h0M418.5 1815.2h0M436.6 1729.5h0M454.7 1689h0M472.8 1685.9h0M490.9 1661h0M508.9 1715.5h0M527 1695.3h0M545.1 1757.6h0M563.2 1685.9h0M581.3 1645.4h0M599.4 1647h0M617.5 1664.1h0M635.6 1667.2h0M653.7 1804.3h0M671.8 1617.4h0M689.8 1710.8h0M707.9 1586.2h0M726 1600.3h0M744.1 1640.8h0M762.2 1601.8h0M780.3 1604.9h0M798.4 1642.3h0M816.5 1771.6h0M834.6 1667.2h0M852.6 1667.2h0M870.7 1699.9h0M888.8 1698.4h0M906.9 1777.8h0M925 1685.9h0M943.1 1698.4h0M961.2 1651.7h0M979.3 1667.2h0M997.4 1570.7h0M1015.5 1640.8h0M1033.5 1689h0M1051.6 1749.8h0M1069.7 1693.7h0M1087.8 1667.2h0M1105.9 1639.2h0M1124 1695.3h0M1142.1 1726.4h0M1160.2 1701.5h0M1178.3 1685.9h0M1196.4 1661h0M1214.5 1667.2h0M1232.5 1723.3h0M1250.6 1698.4h0M1268.7 1622.1h0M1286.8 1760.7h0M1304.9 1651.7h0M1323 1699.9h0M1341.1 1536.4h0M1359.2 1667.2h0M1377.3 1661h0M1395.3 1685.9h0M1413.4 1746.7h0M1431.5 1667.2h0M1449.6 1685.9h0M1467.7 1673.5h0M1485.8 1657.9h0M1503.9 1659.4h0M1522 1799.6h0M1540.1 1629.9h0M1558.2 1661h0M1576.2 1636.1h0M1594.3 1586.2h0M1612.4 1667.2h0M1630.5 1776.3h0M1648.6 1774.7h0M1666.7 1766.9h0M1684.8 1581.6h0M1702.9 1695.3h0M1721 1626.7h0M1739.1 1619h0M1757.2 1698.4h0M1775.2 1650.1h0M1793.3 1667.2h0M1811.4 1636.1h0M1829.5 1698.4h0M1847.6 1742h0M1865.7 1633h0M1883.8 1594h0M1901.9 1636.1h0M1920 1664.1h0M1938 1590.9h0M1956.1 1661h0M1974.2 1651.7h0M1992.3 1729.5h0M2010.4 1685.9h0M2028.5 1681.2h0"/>
<polyline class="s" stroke="#ff0000" points="219.5,1759.1 237.6,1622.1 255.7,1657.9 273.8,1657.9 291.9,1735.8 309.9,1622.1 328,1766.9 346.1,1698.4 364.2,1566 382.3,1661 400.4,1748.2 418.5,1735.8 436.6,1693.7 454.7,1723.3 472.8,1654.8 490.9,1657.9 508.9,1581.6 527,1692.2 545.1,1830.8 563.2,1629.9 581.3,1651.7 599.4,1661 617.5,1634.5 635.6,1661 653.7,1685.9 671.8,1723.3 689.8,1760.7 707.9,1575.3 726,1626.7 744.1,1720.2 762.2,1681.2 780.3,1693.7 798.4,1665.7 816.5,1681.2 834.6,1586.2 852.6,1620.5 870.7,1661 888.8,1712.4 906.9,1737.3 925,1791.8 943.1,1685.9 961.2,1558.2 979.3,1642.3 997.4,1657.9 1015.5,1724.9 1033.5,1704.6 1051.6,1692.2 1069.7,1667.2 1087.8,1685.9 1105.9,1600.3 1124,1667.2 1142.1,1685.9 1160.2,1710.8 1178.3,1724.9 1196.4,1667.2 1214.5,1701.5 1232.5,1622.1 1250.6,1661 1268.7,1685.9 1286.8,1779.4 1304.9,1511.5 1323,1636.1 1341.1,1545.8 1359.2,1704.6 1377.3,1556.7 1395.3,1685.9 1413.4,1715.5 1431.5,1714 1449.6,1612.7 1467.7,1698.4 1485.8,1763.8 1503.9,1685.9 1522,1651.7 1540.1,1685.9 1558.2,1667.2 1576.2,1661 1594.3,1617.4 1612.4,1634.5 1630.5,1698.4 1648.6,1723.3 1666.7,1685.9 1684.8,1604.9 1702.9,1667.2 1721,1695.3 1739.1,1631.4 1757.2,1704.6 1775.2,1689 1793.3,1556.7 1811.4,1743.5 1829.5,1735.8 1847.6,1609.6 1865.7,1595.6 1883.8,1698.4 1901.9,1601.8 1920,1636.1 1938,1667.2 1956.1,1661 1974.2,1685.9 1992.3,1737.3 2010.4,1756 2028.5,1726.4"/>
<path class="d" stroke="#ff0000" d="M219.5 1759.1h0M237.6 1622.1h0M255.7 1657.9h0M273.8 1657.9h0M291.9 1735.8h0M309.9 1622.1h0M328 1766.9h0M346.1 1698.4h0M364.2 1566h0M382.3 1661h0M400.4 1748.2h0M418.5 1735.8h0M436.6 1693.7h0M454.7 1723.3h0M472.8 1654.8h0M490.9 1657.9h0M508.9 1581.6h0M527 1692.2h0M545.1 1830.8h0M563.2 1629.9h0M581.3 1651.7h0M599.4 1661h0M617.5 1634.5h0M635.6 1661h0M653.7 1685.9h0M671.8 1723.3h0M689.8 1760.7h0M707.9 1575.3h0M726 1626.7h0M744.1 1720.2h0M762.2 1681.2h0M780.3 1693.7h0M798.4 1665.7h0M816.5 1681.2h0M834.6 1586.2h0M852.6 1620.5h0M870.7 1661h0M888.8 1712.4h0M906.9 1737.3h0M925 1791.8h0M943.1 1685.9h0M961.2 1558.2h0M979.3 1642.3h0M997.4 1657.9h0M1015.5 1724.9h0M1033.5 1704.6h0M1051.6 1692.2h0M1069.7 1667.2h0M1087.8 1685.9h0M1105.9 1600.3h0M1124 1667.2h0M1142.1 1685.9h0M1160.2 1710.8h0M1178.3 1724.9h0M1196.4 1667.2h0M1214.5 1701.5h0M1232.5 1622.1h0M1250.6 1661h0M1268.7 1685.9h0M1286.8 1779.4h0M1304.9 1511.5h0M1323 1636.1h0M1341.1 1545.8h0M1359.2 1704.6h0M1377.3 1556.7h0M1395.3 1685.9h0M1413.4 1715.5h0M1431.5 1714h0M1449.6 1612.7h0M1467.7 1698.4h0M1485.8 1763.8h0M1503.9 1685.9h0M1522 1651.7h0M1540.1 1685.9h0M1558.2 1667.2h0M1576.2 1661h0M1594.3 1617.4h0M1612.4 1634.5h0M1630.5 1698.4h0M1648.6 1723.3h0M1666.7 1685.9h0M1684.8 1604.9h0M1702.9 1667.2h0M1721 1695.3h0M1739.1 1631.4h0M1757.2 1704.6h0M1775.2 1689h0M1793.3 1556.7h0M1811.4 1743.5h0M1829.5 1735.8h0M1847.6 1609.6h0M1865.7 1595.6h0M1883.8 1698.4h0M1901.9 1601.8h0M1920 1636.1h0M1938 1667.2h0M1956.1 1661h0M1974.2 1685.9h0M1992.3 1737.3h0M2010.4 1756h0M2028.5 1726.4h0"/>
<polyline class="s" stroke="#00ffff" points="219.5,1664.1 237.6,1648.5 255.7,1633 273.8,1685.9 291.9,1661 309.9,1720.2 328,1695.3 346.1,1692.2 364.2,1765.4 382.3,1704.6 400.4,1673.5 418.5,1637.6 436.6,1735.8 454.7,1752.9 472.8,1685.9 490.9,1631.4 508.9,1687.5 527,1661 545.1,1643.9 563.2,1670.3 581.3,1760.7 599.4,1698.4 617.5,1685.9 635.6,1734.2 653.7,1679.7 671.8,1667.2 689.8,1768.5 707.9,1664.1 726,1685.9 744.1,1653.2 762.2,1704.6 780.3,1667.2 798.4,1671.9 816.5,1763.8 834.6,1685.9 852.6,1645.4 870.7,1661 888.8,1685.9 906.9,1676.6 925,1695.3 943.1,1756 961.2,1612.7 979.3,1709.3 997.4,1710.8 1015.5,1685.9 1033.5,1737.3 1051.6,1717.1 1069.7,1673.5 1087.8,1586.2 1105.9,1724.9 1124,1731.1 1142.1,1633 1160.2,1779.4 1178.3,1796.5 1196.4,1606.5 1214.5,1651.7 1232.5,1714 1250.6,1664.1 1268.7,1692.2 1286.8,1685.9 1304.9,1604.9 1323,1612.7 1341.1,1714 1359.2,1667.2 1377.3,1679.7 1395.3,1706.2 1413.4,1676.6 1431.5,1598.7 1449.6,1710.8 1467.7,1685.9 1485.8,1608 1503.9,1704.6 1522,1676.6 1540.1,1749.8 1558.2,1667.2 1576.2,1685.9 1594.3,1685.9 1612.4,1695.3 1630.5,1604.9 1648.6,1704.6 1666.7,1676.6 1684.8,1717.1 1702.9,1634.5 1721,1673.5 1739.1,1678.1 1757.2,1734.2 1775.2,1661 1793.3,1590.9 1811.4,1661 1829.5,1685.9 1847.6,1692.2 1865.7,1685.9 1883.8,1651.7 1901.9,1745.1 1920,1689 1938,1695.3 1956.1,1608 1974.2,1718.6 1992.3,1653.2 2010.4,1661 2028.5,1589.4"/>
<path class="d" stroke="#00ffff" d="M219.5 1664.1h0M237.6 1648.5h0M255.7 1633h0M273.8 1685.9h0M291.9 1661h0M309.9 1720.2h0M328 1695.3h0M346.1 1692.2h0M364.2 1765.4h0M382.3 1704.6h0M400.4 1673.5h0M418.5 1637.6h0M436.6 1735.8h0M454.7 1752.9h0M472.8 1685.9h0M490.9 1631.4h0M508.9 1687.5h0M527 1661h0M545.1 1643.9h0M563.2 1670.3h0M581.3 1760.7h0M599.4 1698.4h0M617.5 1685.9h0M635.6 1734.2h0M653.7 1679.7h0M671.8 1667.2h0M689.8 1768.5h0M707.9 1664.1h0M726 1685.9h0M744.1 1653.2h0M762.2 1704.6h0M780.3 1667.2h0M798.4 1671.9h0M816.5 1763.8h0M834.6 1685.9h0M852.6 1645.4h0M870.7 1661h0M888.8 1685.9h0M906.9 1676.6h0M925 1695.3h0M943.1 1756h0M961.2 1612.7h0M979.3 1709.3h0M997.4 1710.8h0M1015.5 1685.9h0M1033.5 1737.3h0M1051.6 1717.1h0M1069.7 1673.5h0M1087.8 1586.2h0M1105.9 1724.9h0M1124 1731.1h0M1142.1 1633h0M1160.2 1779.4h0M1178.3 1796.5h0M1196.4 1606.5h0M1214.5 1651.7h0M1232.5 1714h0M1250.6 1664.1h0M1268.7 1692.2h0M1286.8 1685.9h0M1304.9 1604.9h0M1323 1612.7h0M1341.1 1714h0M1359.2 1667.2h0M1377.3 1679.7h0M1395.3 1706.2h0M1413.4 1676.6h0M1431.5 1598.7h0M1449.6 1710.8h0M1467.7 1685.9h0M1485.8 1608h0M1503.9 1704.6h0M1522 1676.6h0M1540.1 1749.8h0M1558.2 1667.2h0M1576.2 1685.9h0M1594.3 1685.9h0M1612.4 1695.3h0M1630.5 1604.9h0M1648.6 1704.6h0M1666.7 1676.6h0M1684.8 1717.1h0M1702.9 1634.5h0M1721 1673.5h0M1739.1 1678.1h0M1757.2 1734.2h0M1775.2 1661h0M1793.3 1590.9h0M1811.4 1661h0M1829.5 1685.9h0M1847.6 1692.2h0M1865.7 1685.9h0M1883.8 1651.7h0M1901.9 1745.1h0M1920 1689h0M1938 1695.3h0M1956.1 1608h0M1974.2 1718.6h0M1992.3 1653.2h0M2010.4 1661h0M2028.5 1589.4h0"/>
<polyline class="s" stroke="#000000" points="219.5,1715.5 237.6,1685.9 255.7,1695.3 273.8,1699.9 291.9,1620.5 309.9,1668.8 328,1706.2 346.1,1645.4 364.2,1681.2 382.3,1651.7 400.4,1664.1 418.5,1664.1 436.6,1701.5 454.7,1698.4 472.8,1611.2 490.9,1637.6 508.9,1657.9 527,1718.6 545.1,1701.5 563.2,1748.2 581.3,1657.9 599.4,1589.4 617.5,1657.9 635.6,1640.8 653.7,1662.6 671.8,1709.3 689.8,1712.4 707.9,1590.9 726,1665.7 744.1,1673.5 762.2,1690.6 780.3,1745.1 798.4,1684.4 816.5,1742 834.6,1633 852.6,1664.1 870.7,1631.4 888.8,1696.8 906.9,1622.1 925,1673.5 943.1,1738.9 961.2,1657.9 979.3,1653.2 997.4,1698.4 1015.5,1657.9 1033.5,1714 1051.6,1698.4 1069.7,1611.2 1087.8,1653.2 1105.9,1657.9 1124,1637.6 1142.1,1715.5 1160.2,1661 1178.3,1717.1 1196.4,1622.1 1214.5,1673.5 1232.5,1623.6 1250.6,1637.6 1268.7,1675 1286.8,1737.3 1304.9,1625.2 1323,1623.6 1341.1,1678.1 1359.2,1573.8 1377.3,1664.1 1395.3,1675 1413.4,1612.7 1431.5,1656.3 1449.6,1681.2 1467.7,1637.6 1485.8,1714 1503.9,1684.4 1522,1751.3 1540.1,1704.6 1558.2,1587.8 1576.2,1689 1594.3,1657.9 1612.4,1651.7 1630.5,1737.3 1648.6,1710.8 1666.7,1720.2 1684.8,1728 1702.9,1706.2 1721,1684.4 1739.1,1693.7 1757.2,1692.2 1775.2,1661 1793.3,1695.3 1811.4,1657.9 1829.5,1675 1847.6,1698.4 1865.7,1692.2 1883.8,1726.4 1901.9,1676.6 1920,1645.4 1938,1615.8 1956.1,1665.7 1974.2,1675 1992.3,1673.5 2010.4,1729.5 2028.5,1645.4"/>
<path class="d" stroke="#000000" d="M219.5 1715.5h0M237.6 1685.9h0M255.7 1695.3h0M273.8 1699.9h0M291.9 1620.5h0M309.9 1668.8h0M328 1706.2h0M346.1 1645.4h0M364.2 1681.2h0M382.3 1651.7h0M400.4 1664.1h0M418.5 1664.1h0M436.6 1701.5h0M454.7 1698.4h0M472.8 1611.2h0M490.9 1637.6h0M508.9 1657.9h0M527 1718.6h0M545.1 1701.5h0M563.2 1748.2h0M581.3 1657.9h0M599.4 1589.4h0M617.5 1657.9h0M635.6 1640.8h0M653.7 1662.6h0M671.8 1709.3h0M689.8 1712.4h0M707.9 1590.9h0M726 1665.7h0M744.1 1673.5h0M762.2 1690.6h0M780.3 1745.1h0M798.4 1684.4h0M816.5 1742h0M834.6 1633h0M852.6 1664.1h0M870.7 1631.4h0M888.8 1696.8h0M906.9 1622.1h0M925 1673.5h0M943.1 1738.9h0M961.2 1657.9h0M979.3 1653.2h0M997.4 1698.4h0M1015.5 1657.9h0M1033.5 1714h0M1051.6 1698.4h0M1069.7 1611.2h0M1087.8 1653.2h0M1105.9 1657.9h0M1124 1637.6h0M1142.1 1715.5h0M1160.2 1661h0M1178.3 1717.1h0M1196.4 1622.1h0M1214.5 1673.5h0M1232.5 1623.6h0M1250.6 1637.6h0M1268.7 1675h0M1286.8 1737.3h0M1304.9 1625.2h0M1323 1623.6h0M1341.1 1678.1h0M1359.2 1573.8h0M1377.3 1664.1h0M1395.3 1675h0M1413.4 1612.7h0M1431.5 1656.3h0M1449.6 1681.2h0M1467.7 1637.6h0M1485.8 1714h0M1503.9 1684.4h0M1522 1751.3h0M1540.1 1704.6h0M1558.2 1587.8h0M1576.2 1689h0M1594.3 1657.9h0M1612.4 1651.7h0M1630.5 1737.3h0M1648.6 1710.8h0M1666.7 1720.2h0M1684.8 1728h0M1702.9 1706.2h0M1721 1684.4h0M1739.1 1693.7h0M1757.2 1692.2h0M1775.2 1661h0M1793.3 1695.3h0M1811.4 1657.9h0M1829.5 1675h0M1847.6 1698.4h0M1865.7 1692.2h0M1883.8 1726.4h0M1901.9 1676.6h0M1920 1645.4h0M1938 1615.8h0M1956.1 1665.7h0M1974.2 1675h0M1992.3 1673.5h0M2010.4 1729.5h0M2028.5 1645.4h0"/>
<text class="t" text-anchor="end" transform="translate(205.5 1132) scale(1 1.032)">1</text>
<rect x="176.49" y="1125.30" width="10.56" height="7.70" fill="#fff"/>
<rect x="194.90" y="1125.30" width="9.80" height="7.70" fill="#fff"/>
<text class="t" text-anchor="end" transform="translate(201.3 1416.7) scale(1 1.032)">0.5</text>
<text class="t" text-anchor="end" transform="translate(201.3 1701.3) scale(1 1.032)">0</text>
<text class="t" text-anchor="end" transform="translate(205.4 1986) scale(1 1.032)">-0.5</text>
<text class="t" text-anchor="middle" transform="translate(217.2 2033.2) scale(1 1.032)">-50</text>
<text class="t" text-anchor="middle" transform="translate(579 2033.2) scale(1 1.032)">-30</text>
<text class="t" text-anchor="middle" transform="translate(940.8 2033.2) scale(1 1.032)">-10</text>
<rect x="921.31" y="2026.50" width="10.56" height="7.70" fill="#fff"/>
<rect x="939.72" y="2026.50" width="9.80" height="7.70" fill="#fff"/>
<text class="t" text-anchor="middle" transform="translate(1302.6 2033.2) scale(1 1.032)">10</text>
<rect x="1273.59" y="2026.50" width="10.56" height="7.70" fill="#fff"/>
<rect x="1292.00" y="2026.50" width="9.80" height="7.70" fill="#fff"/>
<text class="t" text-anchor="middle" transform="translate(1664.4 2033.2) scale(1 1.032)">30</text>
<text class="t" text-anchor="middle" transform="translate(2026.2 2033.2) scale(1 1.032)">50</text>
<text class="x" text-anchor="middle" transform="translate(1117.2 2097.6) scale(1 1.032)">Velocity (m/s)</text>
<text class="y" text-anchor="middle" transform="translate(75 1545.5) rotate(-90)">Velocity Bias (m/s)</text>
<rect class="a" x="707.5" y="1133.5" width="1292" height="171" fill="#fff" style="fill:#fff"/>
<path d="M735.5 1181.5h288.5" stroke="#00ff00" stroke-width="11" fill="none"/>
<circle cx="879.5" cy="1181.5" r="10" fill="#00ff00"/>
<text class="l" text-anchor="start" transform="translate(1044.3 1203) scale(1 1.02)">16</text>
<rect x="1047.11" y="1196.33" width="10.63" height="7.67" fill="#fff"/>
<rect x="1065.65" y="1196.33" width="9.87" height="7.67" fill="#fff"/>
<path d="M1166.5 1181.5h288.5" stroke="#0000ff" stroke-width="11" fill="none"/>
<circle cx="1310.5" cy="1181.5" r="10" fill="#0000ff"/>
<text class="l" text-anchor="start" transform="translate(1475.3 1203) scale(1 1.02)">36</text>
<path d="M1597.5 1181.5h288.5" stroke="#00ffff" stroke-width="11" fill="none"/>
<circle cx="1741.5" cy="1181.5" r="10" fill="#00ffff"/>
<text class="l" text-anchor="start" transform="translate(1906.3 1203) scale(1 1.02)">56</text>
<path d="M735.5 1255.5h288.5" stroke="#ff00ff" stroke-width="11" fill="none"/>
<circle cx="879.5" cy="1255.5" r="10" fill="#ff00ff"/>
<text class="l" text-anchor="start" transform="translate(1044.3 1277) scale(1 1.02)">26</text>
<path d="M1166.5 1255.5h288.5" stroke="#ff0000" stroke-width="11" fill="none"/>
<circle cx="1310.5" cy="1255.5" r="10" fill="#ff0000"/>
<text class="l" text-anchor="start" transform="translate(1475.3 1277) scale(1 1.02)">46</text>
<path d="M1597.5 1255.5h288.5" stroke="#000000" stroke-width="11" fill="none"/>
<circle cx="1741.5" cy="1255.5" r="10" fill="#000000"/>
<text class="l" text-anchor="start" transform="translate(1906.3 1277) scale(1 1.02)">66</text>
</g>
<g>
<path class="a" d="M581.3 2195.5v23.5M581.3 3049.5v-23.5M943.1 2195.5v23.5M943.1 3049.5v-23.5M1304.9 2195.5v23.5M1304.9 3049.5v-23.5M1666.7 2195.5v23.5M1666.7 3049.5v-23.5M219.5 2302.2h23.5M2028.5 2302.2h-23.5M219.5 2515.8h23.5M2028.5 2515.8h-23.5M219.5 2729.2h23.5M2028.5 2729.2h-23.5M219.5 2942.8h23.5M2028.5 2942.8h-23.5"/>
<rect class="a" x="219.5" y="2195.5" width="1809" height="854"/>
<polyline class="s" stroke="#00ff00" points="219.5,2361.8 237.6,2453 255.7,2496.6 273.8,2425 291.9,2474.8 309.9,2590.4 328,2479 346.1,2424.3 364.2,2436.7 382.3,2445.5 400.4,2515.5 418.5,2442.2 436.6,2544.2 454.7,2556.2 472.8,2436.7 490.9,2430.8 508.9,2472.5 527,2307.1 545.1,2440.6 563.2,2411.3 581.3,2486.2 599.4,2496 617.5,2461.8 635.6,2580.6 653.7,2419.4 671.8,2453.6 689.8,2541.6 707.9,2399.9 726,2396.6 744.1,2568.3 762.2,2319.5 780.3,2468.3 798.4,2423.7 816.5,2592 834.6,2328.3 852.6,2404.1 870.7,2536.7 888.8,2327.3 906.9,2637.6 925,2357.6 943.1,2600.2 961.2,2352 979.3,2355.3 997.4,2383.6 1015.5,2555.2 1033.5,2476.4 1051.6,2326 1069.7,2393.4 1087.8,2455.3 1105.9,2427.6 1124,2520.4 1142.1,2435.7 1160.2,2333.2 1178.3,2613.2 1196.4,2461.8 1214.5,2482.9 1232.5,2484.6 1250.6,2474.8 1268.7,2450.4 1286.8,2342.9 1304.9,2514.9 1323,2399.9 1341.1,2469.9 1359.2,2369 1377.3,2432.5 1395.3,2484.6 1413.4,2448.8 1431.5,2374.8 1449.6,2505.7 1467.7,2355.3 1485.8,2491.1 1503.9,2452 1522,2536.7 1540.1,2433.4 1558.2,2423.7 1576.2,2548.1 1594.3,2530.2 1612.4,2422.7 1630.5,2387.9 1648.6,2419.4 1666.7,2471.5 1684.8,2494.3 1702.9,2343.6 1721,2491.1 1739.1,2320.8 1757.2,2469.9 1775.2,2325 1793.3,2287.6 1811.4,2397.6 1829.5,2417.2 1847.6,2486.8 1865.7,2388.5 1883.8,2275.2 1901.9,2486.8 1920,2574.1 1938,2543.2 1956.1,2424.3 1974.2,2302.2 1992.3,2398.9 2010.4,2376.1 2028.5,2267.4"/>
<path class="d" stroke="#00ff00" d="M219.5 2361.8h0M237.6 2453h0M255.7 2496.6h0M273.8 2425h0M291.9 2474.8h0M309.9 2590.4h0M328 2479h0M346.1 2424.3h0M364.2 2436.7h0M382.3 2445.5h0M400.4 2515.5h0M418.5 2442.2h0M436.6 2544.2h0M454.7 2556.2h0M472.8 2436.7h0M490.9 2430.8h0M508.9 2472.5h0M527 2307.1h0M545.1 2440.6h0M563.2 2411.3h0M581.3 2486.2h0M599.4 2496h0M617.5 2461.8h0M635.6 2580.6h0M653.7 2419.4h0M671.8 2453.6h0M689.8 2541.6h0M707.9 2399.9h0M726 2396.6h0M744.1 2568.3h0M762.2 2319.5h0M780.3 2468.3h0M798.4 2423.7h0M816.5 2592h0M834.6 2328.3h0M852.6 2404.1h0M870.7 2536.7h0M888.8 2327.3h0M906.9 2637.6h0M925 2357.6h0M943.1 2600.2h0M961.2 2352h0M979.3 2355.3h0M997.4 2383.6h0M1015.5 2555.2h0M1033.5 2476.4h0M1051.6 2326h0M1069.7 2393.4h0M1087.8 2455.3h0M1105.9 2427.6h0M1124 2520.4h0M1142.1 2435.7h0M1160.2 2333.2h0M1178.3 2613.2h0M1196.4 2461.8h0M1214.5 2482.9h0M1232.5 2484.6h0M1250.6 2474.8h0M1268.7 2450.4h0M1286.8 2342.9h0M1304.9 2514.9h0M1323 2399.9h0M1341.1 2469.9h0M1359.2 2369h0M1377.3 2432.5h0M1395.3 2484.6h0M1413.4 2448.8h0M1431.5 2374.8h0M1449.6 2505.7h0M1467.7 2355.3h0M1485.8 2491.1h0M1503.9 2452h0M1522 2536.7h0M1540.1 2433.4h0M1558.2 2423.7h0M1576.2 2548.1h0M1594.3 2530.2h0M1612.4 2422.7h0M1630.5 2387.9h0M1648.6 2419.4h0M1666.7 2471.5h0M1684.8 2494.3h0M1702.9 2343.6h0M1721 2491.1h0M1739.1 2320.8h0M1757.2 2469.9h0M1775.2 2325h0M1793.3 2287.6h0M1811.4 2397.6h0M1829.5 2417.2h0M1847.6 2486.8h0M1865.7 2388.5h0M1883.8 2275.2h0M1901.9 2486.8h0M1920 2574.1h0M1938 2543.2h0M1956.1 2424.3h0M1974.2 2302.2h0M1992.3 2398.9h0M2010.4 2376.1h0M2028.5 2267.4h0"/>
<polyline class="s" stroke="#ff00ff" points="219.5,2601.8 237.6,2844.4 255.7,2805.3 273.8,2743.4 291.9,2639.2 309.9,2772.8 328,2800.4 346.1,2636 364.2,2697.9 382.3,2686.5 400.4,2782.5 418.5,2639.2 436.6,2704.4 454.7,2614.8 472.8,2816.7 490.9,2720.7 508.9,2792.3 527,2649 545.1,2706 563.2,2728.8 581.3,2735.3 599.4,2776 617.5,2572.5 635.6,2824.9 653.7,2795.5 671.8,2753.2 689.8,2737.6 707.9,2698.5 726,2637.6 744.1,2623 762.2,2758.1 780.3,2808.6 798.4,2746.7 816.5,2674.4 834.6,2841.1 852.6,2725.5 870.7,2694.6 888.8,2805.3 906.9,2837.9 925,2693 943.1,2610.6 961.2,2736.9 979.3,2687.4 997.4,2723.3 1015.5,2769.5 1033.5,2808.6 1051.6,2824.9 1069.7,2667.9 1087.8,2808.6 1105.9,2693 1124,2743.4 1142.1,2611.6 1160.2,2785.8 1178.3,2771.1 1196.4,2772.8 1214.5,2670.2 1232.5,2824.9 1250.6,2805.3 1268.7,2802.1 1286.8,2696.2 1304.9,2808.6 1323,2662 1341.1,2824.9 1359.2,2723.9 1377.3,2725.5 1395.3,2746.7 1413.4,2732 1431.5,2671.8 1449.6,2649 1467.7,2769.5 1485.8,2704.4 1503.9,2624.6 1522,2841.1 1540.1,2797.2 1558.2,2701.1 1576.2,2723.9 1594.3,2779.3 1612.4,2679 1630.5,2743.4 1648.6,2758.1 1666.7,2774.4 1684.8,2663.7 1702.9,2763 1721,2754.8 1739.1,2769.5 1757.2,2720.7 1775.2,2743.4 1793.3,2691.3 1811.4,2717.4 1829.5,2776 1847.6,2753.2 1865.7,2795.5 1883.8,2763 1901.9,2709.3 1920,2756.5 1938,2684.8 1956.1,2750 1974.2,2771.1 1992.3,2670.2 2010.4,2626.2 2028.5,2697.2"/>
<path class="d" stroke="#ff00ff" d="M219.5 2601.8h0M237.6 2844.4h0M255.7 2805.3h0M273.8 2743.4h0M291.9 2639.2h0M309.9 2772.8h0M328 2800.4h0M346.1 2636h0M364.2 2697.9h0M382.3 2686.5h0M400.4 2782.5h0M418.5 2639.2h0M436.6 2704.4h0M454.7 2614.8h0M472.8 2816.7h0M490.9 2720.7h0M508.9 2792.3h0M527 2649h0M545.1 2706h0M563.2 2728.8h0M581.3 2735.3h0M599.4 2776h0M617.5 2572.5h0M635.6 2824.9h0M653.7 2795.5h0M671.8 2753.2h0M689.8 2737.6h0M707.9 2698.5h0M726 2637.6h0M744.1 2623h0M762.2 2758.1h0M780.3 2808.6h0M798.4 2746.7h0M816.5 2674.4h0M834.6 2841.1h0M852.6 2725.5h0M870.7 2694.6h0M888.8 2805.3h0M906.9 2837.9h0M925 2693h0M943.1 2610.6h0M961.2 2736.9h0M979.3 2687.4h0M997.4 2723.3h0M1015.5 2769.5h0M1033.5 2808.6h0M1051.6 2824.9h0M1069.7 2667.9h0M1087.8 2808.6h0M1105.9 2693h0M1124 2743.4h0M1142.1 2611.6h0M1160.2 2785.8h0M1178.3 2771.1h0M1196.4 2772.8h0M1214.5 2670.2h0M1232.5 2824.9h0M1250.6 2805.3h0M1268.7 2802.1h0M1286.8 2696.2h0M1304.9 2808.6h0M1323 2662h0M1341.1 2824.9h0M1359.2 2723.9h0M1377.3 2725.5h0M1395.3 2746.7h0M1413.4 2732h0M1431.5 2671.8h0M1449.6 2649h0M1467.7 2769.5h0M1485.8 2704.4h0M1503.9 2624.6h0M1522 2841.1h0M1540.1 2797.2h0M1558.2 2701.1h0M1576.2 2723.9h0M1594.3 2779.3h0M1612.4 2679h0M1630.5 2743.4h0M1648.6 2758.1h0M1666.7 2774.4h0M1684.8 2663.7h0M1702.9 2763h0M1721 2754.8h0M1739.1 2769.5h0M1757.2 2720.7h0M1775.2 2743.4h0M1793.3 2691.3h0M1811.4 2717.4h0M1829.5 2776h0M1847.6 2753.2h0M1865.7 2795.5h0M1883.8 2763h0M1901.9 2709.3h0M1920 2756.5h0M1938 2684.8h0M1956.1 2750h0M1974.2 2771.1h0M1992.3 2670.2h0M2010.4 2626.2h0M2028.5 2697.2h0"/>
<polyline class="s" stroke="#0000ff" points="219.5,2795.5 237.6,2808.6 255.7,2826.5 273.8,2841.1 291.9,2880.2 309.9,2756.5 328,2857.4 346.1,2961.6 364.2,2903 382.3,2790.7 400.4,2945.3 418.5,2810.2 436.6,2837.9 454.7,2878.6 472.8,2873.7 490.9,2893.2 508.9,2816.7 527,2873.7 545.1,2849.3 563.2,2867.2 581.3,2808.6 599.4,2666.9 617.5,2841.1 635.6,2890 653.7,2922.5 671.8,2797.2 689.8,2836.2 707.9,2928.4 726,2846 744.1,2826.5 762.2,2873.7 780.3,2758.1 798.4,2873.7 816.5,2906.3 834.6,2890 852.6,2746.1 870.7,2803.7 888.8,2873.7 906.9,2916 925,2953.5 943.1,2797.2 961.2,2890 979.3,2857.4 997.4,2834.6 1015.5,2873.7 1033.5,2808.6 1051.6,2935.6 1069.7,2930.7 1087.8,2873.7 1105.9,2846 1124,2816.7 1142.1,2873.7 1160.2,2813.5 1178.3,2890 1196.4,2893.2 1214.5,2738.6 1232.5,2841.1 1250.6,2808.6 1268.7,2873.7 1286.8,3013.7 1304.9,2873.7 1323,2752.6 1341.1,2844.4 1359.2,2824.9 1377.3,2839.5 1395.3,2841.1 1413.4,2813.5 1431.5,2842.8 1449.6,2837.9 1467.7,2857.4 1485.8,2745.1 1503.9,2846 1522,2912.8 1540.1,2850.9 1558.2,2831.4 1576.2,2854.2 1594.3,2890 1612.4,2873.7 1630.5,2899.7 1648.6,2852.5 1666.7,2857.4 1684.8,2873.7 1702.9,2823.2 1721,2906.3 1739.1,2795.5 1757.2,2768.8 1775.2,2906.3 1793.3,2906.3 1811.4,2802.1 1829.5,2841.1 1847.6,2810.2 1865.7,2824.9 1883.8,2826.5 1901.9,2815.1 1920,2837.9 1938,2793.9 1956.1,2903 1974.2,2857.4 1992.3,2785.1 2010.4,2875.3 2028.5,2817.7"/>
<path class="d" stroke="#0000ff" d="M219.5 2795.5h0M237.6 2808.6h0M255.7 2826.5h0M273.8 2841.1h0M291.9 2880.2h0M309.9 2756.5h0M328 2857.4h0M346.1 2961.6h0M364.2 2903h0M382.3 2790.7h0M400.4 2945.3h0M418.5 2810.2h0M436.6 2837.9h0M454.7 2878.6h0M472.8 2873.7h0M490.9 2893.2h0M508.9 2816.7h0M527 2873.7h0M545.1 2849.3h0M563.2 2867.2h0M581.3 2808.6h0M599.4 2666.9h0M617.5 2841.1h0M635.6 2890h0M653.7 2922.5h0M671.8 2797.2h0M689.8 2836.2h0M707.9 2928.4h0M726 2846h0M744.1 2826.5h0M762.2 2873.7h0M780.3 2758.1h0M798.4 2873.7h0M816.5 2906.3h0M834.6 2890h0M852.6 2746.1h0M870.7 2803.7h0M888.8 2873.7h0M906.9 2916h0M925 2953.5h0M943.1 2797.2h0M961.2 2890h0M979.3 2857.4h0M997.4 2834.6h0M1015.5 2873.7h0M1033.5 2808.6h0M1051.6 2935.6h0M1069.7 2930.7h0M1087.8 2873.7h0M1105.9 2846h0M1124 2816.7h0M1142.1 2873.7h0M1160.2 2813.5h0M1178.3 2890h0M1196.4 2893.2h0M1214.5 2738.6h0M1232.5 2841.1h0M1250.6 2808.6h0M1268.7 2873.7h0M1286.8 3013.7h0M1304.9 2873.7h0M1323 2752.6h0M1341.1 2844.4h0M1359.2 2824.9h0M1377.3 2839.5h0M1395.3 2841.1h0M1413.4 2813.5h0M1431.5 2842.8h0M1449.6 2837.9h0M1467.7 2857.4h0M1485.8 2745.1h0M1503.9 2846h0M1522 2912.8h0M1540.1 2850.9h0M1558.2 2831.4h0M1576.2 2854.2h0M1594.3 2890h0M1612.4 2873.7h0M1630.5 2899.7h0M1648.6 2852.5h0M1666.7 2857.4h0M1684.8 2873.7h0M1702.9 2823.2h0M1721 2906.3h0M1739.1 2795.5h0M1757.2 2768.8h0M1775.2 2906.3h0M1793.3 2906.3h0M1811.4 2802.1h0M1829.5 2841.1h0M1847.6 2810.2h0M1865.7 2824.9h0M1883.8 2826.5h0M1901.9 2815.1h0M1920 2837.9h0M1938 2793.9h0M1956.1 2903h0M1974.2 2857.4h0M1992.3 2785.1h0M2010.4 2875.3h0M2028.5 2817.7h0"/>
<polyline class="s" stroke="#ff0000" points="219.5,2767.9 237.6,2831.4 255.7,2702.7 273.8,2867.2 291.9,2837.9 309.9,2833 328,2873.7 346.1,2857.4 364.2,2890 382.3,2932.3 400.4,2873.7 418.5,2867.2 436.6,2903 454.7,2782.5 472.8,2873.7 490.9,2885.1 508.9,2836.2 527,2855.8 545.1,2759.7 563.2,2813.5 581.3,2761.4 599.4,2797.2 617.5,2824.9 635.6,2805.3 653.7,2906.3 671.8,2877 689.8,2854.2 707.9,2834.6 726,2816.7 744.1,2844.4 762.2,2919.3 780.3,2927.4 798.4,2890 816.5,2873.7 834.6,2850.9 852.6,2824.2 870.7,2899.7 888.8,2821.6 906.9,2903 925,2852.5 943.1,2854.2 961.2,2841.1 979.3,2824.9 997.4,2850.9 1015.5,2841.1 1033.5,2779.9 1051.6,2826.5 1069.7,2867.2 1087.8,2782.5 1105.9,2826.5 1124,2857.4 1142.1,2885.1 1160.2,2854.2 1178.3,2842.8 1196.4,2880.2 1214.5,2726.5 1232.5,2857.4 1250.6,2813.5 1268.7,2932.3 1286.8,2873.7 1304.9,2701.8 1323,2903 1341.1,2940.5 1359.2,2799.5 1377.3,2899.7 1395.3,2893.2 1413.4,2935.6 1431.5,2903 1449.6,2899.7 1467.7,2925.8 1485.8,2863.9 1503.9,2937.2 1522,2834.6 1540.1,2837.9 1558.2,2789 1576.2,2802.1 1594.3,2873.7 1612.4,2857.4 1630.5,2841.1 1648.6,2912.8 1666.7,2857.4 1684.8,2837.9 1702.9,2883.5 1721,2855.8 1739.1,2863.9 1757.2,2795.5 1775.2,2893.2 1793.3,2945.3 1811.4,2880.2 1829.5,2744.1 1847.6,2930.7 1865.7,2893.2 1883.8,2873.7 1901.9,2823.2 1920,2831.4 1938,2899.7 1956.1,2886.7 1974.2,2867.2 1992.3,2860.7 2010.4,2792.3 2028.5,2850.9"/>
<path class="d" stroke="#ff0000" d="M219.5 2767.9h0M237.6 2831.4h0M255.7 2702.7h0M273.8 2867.2h0M291.9 2837.9h0M309.9 2833h0M328 2873.7h0M346.1 2857.4h0M364.2 2890h0M382.3 2932.3h0M400.4 2873.7h0M418.5 2867.2h0M436.6 2903h0M454.7 2782.5h0M472.8 2873.7h0M490.9 2885.1h0M508.9 2836.2h0M527 2855.8h0M545.1 2759.7h0M563.2 2813.5h0M581.3 2761.4h0M599.4 2797.2h0M617.5 2824.9h0M635.6 2805.3h0M653.7 2906.3h0M671.8 2877h0M689.8 2854.2h0M707.9 2834.6h0M726 2816.7h0M744.1 2844.4h0M762.2 2919.3h0M780.3 2927.4h0M798.4 2890h0M816.5 2873.7h0M834.6 2850.9h0M852.6 2824.2h0M870.7 2899.7h0M888.8 2821.6h0M906.9 2903h0M925 2852.5h0M943.1 2854.2h0M961.2 2841.1h0M979.3 2824.9h0M997.4 2850.9h0M1015.5 2841.1h0M1033.5 2779.9h0M1051.6 2826.5h0M1069.7 2867.2h0M1087.8 2782.5h0M1105.9 2826.5h0M1124 2857.4h0M1142.1 2885.1h0M1160.2 2854.2h0M1178.3 2842.8h0M1196.4 2880.2h0M1214.5 2726.5h0M1232.5 2857.4h0M1250.6 2813.5h0M1268.7 2932.3h0M1286.8 2873.7h0M1304.9 2701.8h0M1323 2903h0M1341.1 2940.5h0M1359.2 2799.5h0M1377.3 2899.7h0M1395.3 2893.2h0M1413.4 2935.6h0M1431.5 2903h0M1449.6 2899.7h0M1467.7 2925.8h0M1485.8 2863.9h0M1503.9 2937.2h0M1522 2834.6h0M1540.1 2837.9h0M1558.2 2789h0M1576.2 2802.1h0M1594.3 2873.7h0M1612.4 2857.4h0M1630.5 2841.1h0M1648.6 2912.8h0M1666.7 2857.4h0M1684.8 2837.9h0M1702.9 2883.5h0M1721 2855.8h0M1739.1 2863.9h0M1757.2 2795.5h0M1775.2 2893.2h0M1793.3 2945.3h0M1811.4 2880.2h0M1829.5 2744.1h0M1847.6 2930.7h0M1865.7 2893.2h0M1883.8 2873.7h0M1901.9 2823.2h0M1920 2831.4h0M1938 2899.7h0M1956.1 2886.7h0M1974.2 2867.2h0M1992.3 2860.7h0M2010.4 2792.3h0M2028.5 2850.9h0"/>
<polyline class="s" stroke="#00ffff" points="219.5,2862.3 237.6,2932.3 255.7,2906.3 273.8,2888.4 291.9,2976.3 309.9,2873.7 328,2938.8 346.1,2857.4 364.2,2841.1 382.3,2929.1 400.4,2890 418.5,2873.7 436.6,2917.7 454.7,2955.1 472.8,2872.1 490.9,2938.8 508.9,2855.8 527,2890 545.1,2873.7 563.2,2888.4 581.3,2888.4 599.4,2992.6 617.5,2789 635.6,2890 653.7,2793.9 671.8,2960 689.8,2981.2 707.9,2890 726,2898.1 744.1,2890 762.2,2844.4 780.3,2890 798.4,2849.3 816.5,2916 834.6,2844.4 852.6,2893.2 870.7,2849.3 888.8,2933.9 906.9,2873.7 925,2903 943.1,2890 961.2,2909.5 979.3,2873.7 997.4,2919.3 1015.5,2785.1 1033.5,2953.5 1051.6,2906.3 1069.7,2836.2 1087.8,2873.7 1105.9,2916 1124,2890 1142.1,2950.2 1160.2,2903 1178.3,2953.5 1196.4,2987.7 1214.5,2894.9 1232.5,2930.7 1250.6,2995.8 1268.7,2961.6 1286.8,2984.4 1304.9,2837.9 1323,2880.2 1341.1,2818.3 1359.2,2873.7 1377.3,2924.2 1395.3,2873.7 1413.4,2922.5 1431.5,2951.8 1449.6,2860.7 1467.7,2848.3 1485.8,2948.6 1503.9,2917.7 1522,2932.3 1540.1,2901.4 1558.2,2919.3 1576.2,2935.6 1594.3,2836.2 1612.4,2873.7 1630.5,2986 1648.6,2890 1666.7,2906.3 1684.8,2850.9 1702.9,2969.8 1721,2916 1739.1,2929.1 1757.2,2956.7 1775.2,2932.3 1793.3,2890 1811.4,2868.8 1829.5,2860.7 1847.6,2916 1865.7,2820.9 1883.8,2909.5 1901.9,2778.6 1920,2834.6 1938,2914.4 1956.1,2873.7 1974.2,2841.1 1992.3,2860 2010.4,2867.2 2028.5,2868.8"/>
<path class="d" stroke="#00ffff" d="M219.5 2862.3h0M237.6 2932.3h0M255.7 2906.3h0M273.8 2888.4h0M291.9 2976.3h0M309.9 2873.7h0M328 2938.8h0M346.1 2857.4h0M364.2 2841.1h0M382.3 2929.1h0M400.4 2890h0M418.5 2873.7h0M436.6 2917.7h0M454.7 2955.1h0M472.8 2872.1h0M490.9 2938.8h0M508.9 2855.8h0M527 2890h0M545.1 2873.7h0M563.2 2888.4h0M581.3 2888.4h0M599.4 2992.6h0M617.5 2789h0M635.6 2890h0M653.7 2793.9h0M671.8 2960h0M689.8 2981.2h0M707.9 2890h0M726 2898.1h0M744.1 2890h0M762.2 2844.4h0M780.3 2890h0M798.4 2849.3h0M816.5 2916h0M834.6 2844.4h0M852.6 2893.2h0M870.7 2849.3h0M888.8 2933.9h0M906.9 2873.7h0M925 2903h0M943.1 2890h0M961.2 2909.5h0M979.3 2873.7h0M997.4 2919.3h0M1015.5 2785.1h0M1033.5 2953.5h0M1051.6 2906.3h0M1069.7 2836.2h0M1087.8 2873.7h0M1105.9 2916h0M1124 2890h0M1142.1 2950.2h0M1160.2 2903h0M1178.3 2953.5h0M1196.4 2987.7h0M1214.5 2894.9h0M1232.5 2930.7h0M1250.6 2995.8h0M1268.7 2961.6h0M1286.8 2984.4h0M1304.9 2837.9h0M1323 2880.2h0M1341.1 2818.3h0M1359.2 2873.7h0M1377.3 2924.2h0M1395.3 2873.7h0M1413.4 2922.5h0M1431.5 2951.8h0M1449.6 2860.7h0M1467.7 2848.3h0M1485.8 2948.6h0M1503.9 2917.7h0M1522 2932.3h0M1540.1 2901.4h0M1558.2 2919.3h0M1576.2 2935.6h0M1594.3 2836.2h0M1612.4 2873.7h0M1630.5 2986h0M1648.6 2890h0M1666.7 2906.3h0M1684.8 2850.9h0M1702.9 2969.8h0M1721 2916h0M1739.1 2929.1h0M1757.2 2956.7h0M1775.2 2932.3h0M1793.3 2890h0M1811.4 2868.8h0M1829.5 2860.7h0M1847.6 2916h0M1865.7 2820.9h0M1883.8 2909.5h0M1901.9 2778.6h0M1920 2834.6h0M1938 2914.4h0M1956.1 2873.7h0M1974.2 2841.1h0M1992.3 2860h0M2010.4 2867.2h0M2028.5 2868.8h0"/>
<polyline class="s" stroke="#000000" points="219.5,2837.9 237.6,2787.4 255.7,2917.7 273.8,2820 291.9,2870.4 309.9,2842.8 328,2935.6 346.1,2785.8 364.2,2885.1 382.3,2850.9 400.4,2955.1 418.5,2846 436.6,2868.8 454.7,2831.4 472.8,2950.2 490.9,2953.5 508.9,2891.6 527,2924.2 545.1,2860.7 563.2,2859 581.3,2784.1 599.4,2894.9 617.5,2938.8 635.6,2852.5 653.7,2964.9 671.8,2920.9 689.8,2901.4 707.9,2881.8 726,2940.5 744.1,2909.5 762.2,2909.5 780.3,2901.4 798.4,2875.3 816.5,2953.5 834.6,2958.4 852.6,2867.2 870.7,2917.7 888.8,2901.4 906.9,2820 925,2880.2 943.1,2942.1 961.2,2810.2 979.3,2867.2 997.4,2844.4 1015.5,2854.2 1033.5,2872.1 1051.6,2925.8 1069.7,2951.8 1087.8,2984.4 1105.9,2854.2 1124,2947 1142.1,2836.2 1160.2,2904.6 1178.3,2924.2 1196.4,2806.9 1214.5,2862.3 1232.5,2870.4 1250.6,2868.8 1268.7,2940.5 1286.8,2862.3 1304.9,2951.8 1323,2896.5 1341.1,2907.9 1359.2,2836.2 1377.3,2877 1395.3,2855.8 1413.4,2890 1431.5,2888.4 1449.6,2912.8 1467.7,2948.6 1485.8,2870.4 1503.9,2886.7 1522,2863.9 1540.1,2872.1 1558.2,2862.3 1576.2,2883.5 1594.3,2912.8 1612.4,2834.6 1630.5,2951.8 1648.6,2863.9 1666.7,2844.4 1684.8,2888.4 1702.9,2844.4 1721,2935.6 1739.1,2911.1 1757.2,2894.9 1775.2,2833 1793.3,2893.2 1811.4,2933.9 1829.5,2852.5 1847.6,2862.3 1865.7,2924.2 1883.8,2901.4 1901.9,2930.7 1920,2890 1938,2898.1 1956.1,2890 1974.2,2828.1 1992.3,2933.9 2010.4,2890 2028.5,2846"/>
<path class="d" stroke="#000000" d="M219.5 2837.9h0M237.6 2787.4h0M255.7 2917.7h0M273.8 2820h0M291.9 2870.4h0M309.9 2842.8h0M328 2935.6h0M346.1 2785.8h0M364.2 2885.1h0M382.3 2850.9h0M400.4 2955.1h0M418.5 2846h0M436.6 2868.8h0M454.7 2831.4h0M472.8 2950.2h0M490.9 2953.5h0M508.9 2891.6h0M527 2924.2h0M545.1 2860.7h0M563.2 2859h0M581.3 2784.1h0M599.4 2894.9h0M617.5 2938.8h0M635.6 2852.5h0M653.7 2964.9h0M671.8 2920.9h0M689.8 2901.4h0M707.9 2881.8h0M726 2940.5h0M744.1 2909.5h0M762.2 2909.5h0M780.3 2901.4h0M798.4 2875.3h0M816.5 2953.5h0M834.6 2958.4h0M852.6 2867.2h0M870.7 2917.7h0M888.8 2901.4h0M906.9 2820h0M925 2880.2h0M943.1 2942.1h0M961.2 2810.2h0M979.3 2867.2h0M997.4 2844.4h0M1015.5 2854.2h0M1033.5 2872.1h0M1051.6 2925.8h0M1069.7 2951.8h0M1087.8 2984.4h0M1105.9 2854.2h0M1124 2947h0M1142.1 2836.2h0M1160.2 2904.6h0M1178.3 2924.2h0M1196.4 2806.9h0M1214.5 2862.3h0M1232.5 2870.4h0M1250.6 2868.8h0M1268.7 2940.5h0M1286.8 2862.3h0M1304.9 2951.8h0M1323 2896.5h0M1341.1 2907.9h0M1359.2 2836.2h0M1377.3 2877h0M1395.3 2855.8h0M1413.4 2890h0M1431.5 2888.4h0M1449.6 2912.8h0M1467.7 2948.6h0M1485.8 2870.4h0M1503.9 2886.7h0M1522 2863.9h0M1540.1 2872.1h0M1558.2 2862.3h0M1576.2 2883.5h0M1594.3 2912.8h0M1612.4 2834.6h0M1630.5 2951.8h0M1648.6 2863.9h0M1666.7 2844.4h0M1684.8 2888.4h0M1702.9 2844.4h0M1721 2935.6h0M1739.1 2911.1h0M1757.2 2894.9h0M1775.2 2833h0M1793.3 2893.2h0M1811.4 2933.9h0M1829.5 2852.5h0M1847.6 2862.3h0M1865.7 2924.2h0M1883.8 2901.4h0M1901.9 2930.7h0M1920 2890h0M1938 2898.1h0M1956.1 2890h0M1974.2 2828.1h0M1992.3 2933.9h0M2010.4 2890h0M2028.5 2846h0"/>
<text class="t" text-anchor="end" transform="translate(201.3 2322.8) scale(1 1.032)">0.6</text>
<text class="t" text-anchor="end" transform="translate(201.3 2536.2) scale(1 1.032)">0.4</text>
<text class="t" text-anchor="end" transform="translate(201.3 2749.8) scale(1 1.032)">0.2</text>
<text class="t" text-anchor="end" transform="translate(201.3 2963.2) scale(1 1.032)">0</text>
<text class="t" text-anchor="middle" transform="translate(217.2 3117.2) scale(1 1.032)">-50</text>
<text class="t" text-anchor="middle" transform="translate(579 3117.2) scale(1 1.032)">-30</text>
<text class="t" text-anchor="middle" transform="translate(940.8 3117.2) scale(1 1.032)">-10</text>
<rect x="921.31" y="3110.50" width="10.56" height="7.70" fill="#fff"/>
<rect x="939.72" y="3110.50" width="9.80" height="7.70" fill="#fff"/>
<text class="t" text-anchor="middle" transform="translate(1302.6 3117.2) scale(1 1.032)">10</text>
<rect x="1273.59" y="3110.50" width="10.56" height="7.70" fill="#fff"/>
<rect x="1292.00" y="3110.50" width="9.80" height="7.70" fill="#fff"/>
<text class="t" text-anchor="middle" transform="translate(1664.4 3117.2) scale(1 1.032)">30</text>
<text class="t" text-anchor="middle" transform="translate(2026.2 3117.2) scale(1 1.032)">50</text>
<text class="x" text-anchor="middle" transform="translate(1117.2 3181.6) scale(1 1.032)">Velocity (m/s)</text>
<text class="y" text-anchor="middle" transform="translate(75 2666.5) rotate(-90)">Spectrum Width Bias (m/s)</text>
</g>
</svg></body></html>
